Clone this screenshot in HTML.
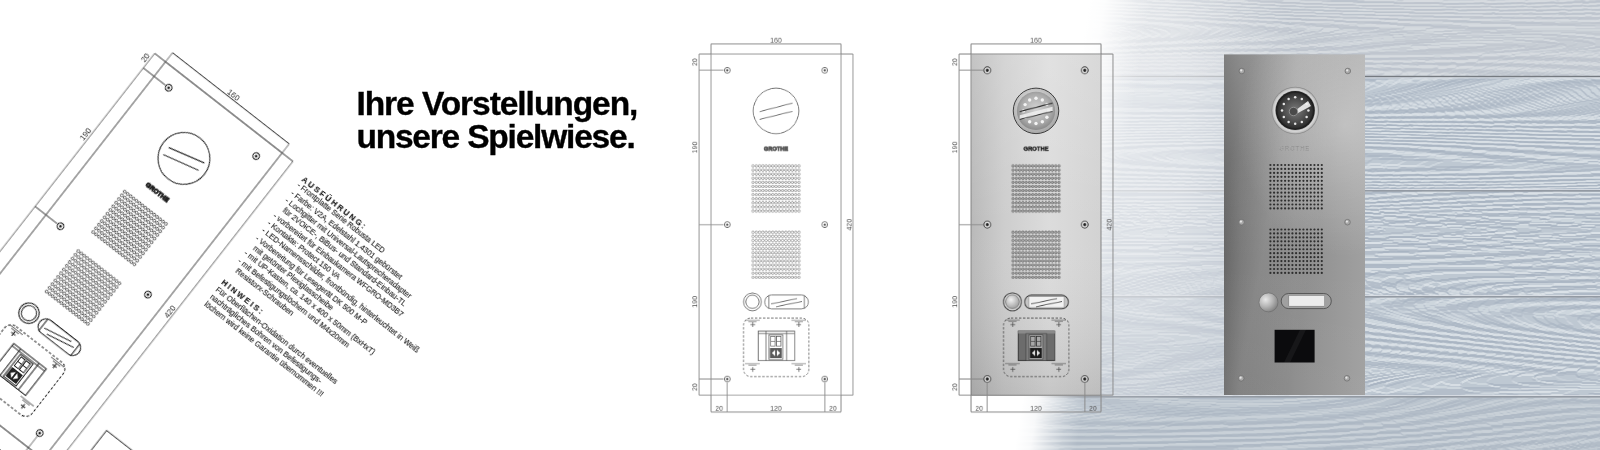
<!DOCTYPE html>
<html><head><meta charset="utf-8"><style>
html,body{margin:0;padding:0;width:1600px;height:450px;overflow:hidden;background:#fff}
svg{display:block;will-change:transform}
text{font-family:"Liberation Sans",sans-serif}
</style></head><body>
<svg width="1600" height="450" viewBox="0 0 1600 450">
<defs>
  <filter id="grain" x="0" y="0" width="100%" height="100%" color-interpolation-filters="sRGB">
    <feTurbulence type="fractalNoise" baseFrequency="0.0008 0.010" numOctaves="2" seed="5" result="n"/>
    <feComponentTransfer in="n" result="s"><feFuncR type="table" tableValues="1 0 1 0 1 0 1 0 1 0 1 0 1 0 1 0 1 0 1 0 1 0 1 0 1 0 1 0 1 0 1 0 1 0 1 0 1 0 1 0 1 0 1 0 1 0 1 0 1 0 1 0 1 0 1 0 1 0 1 0 1"/><feFuncA type="linear" slope="0" intercept="1"/></feComponentTransfer>
    <feColorMatrix in="s" type="matrix" values="1 0 0 0 0  1 0 0 0 0  1 0 0 0 0  1 0 0 0 0" result="h"/>
    <feGaussianBlur in="h" stdDeviation="0.65" result="hb"/>
    <feDiffuseLighting in="hb" surfaceScale="1.0" diffuseConstant="1" lighting-color="#fff" result="L"><feDistantLight azimuth="270" elevation="50"/></feDiffuseLighting>
    <feComponentTransfer in="L" result="L2"><feFuncR type="table" tableValues="0.15 0.17 0.2 0.23 0.27 0.32 0.38 0.45 0.6 0.8 1"/></feComponentTransfer>
    <feColorMatrix in="L2" type="matrix" values="0.243 0 0 0 0.614  0.22 0 0 0 0.664  0.18 0 0 0 0.726  0 0 0 0 1"/>
  </filter>
  <linearGradient id="fade" gradientUnits="userSpaceOnUse" x1="1052" y1="225" x2="1112" y2="235">
    <stop offset="0" stop-color="#fff" stop-opacity="1"/>
    <stop offset="0.25" stop-color="#fff" stop-opacity="0.9"/>
    <stop offset="0.5" stop-color="#fff" stop-opacity="0.55"/>
    <stop offset="0.75" stop-color="#fff" stop-opacity="0.22"/>
    <stop offset="1" stop-color="#fff" stop-opacity="0"/>
  </linearGradient>
  <radialGradient id="tail" gradientUnits="userSpaceOnUse" cx="1080" cy="120" r="220" gradientTransform="translate(1080 120) scale(1 1.4545) translate(-1080 -120)">
    <stop offset="0" stop-color="#fff" stop-opacity="0.6"/>
    <stop offset="0.5" stop-color="#fff" stop-opacity="0.42"/>
    <stop offset="0.8" stop-color="#fff" stop-opacity="0.15"/>
    <stop offset="1" stop-color="#fff" stop-opacity="0"/>
  </radialGradient>
  <linearGradient id="topplank" gradientUnits="userSpaceOnUse" x1="1100" y1="0" x2="1600" y2="0">
    <stop offset="0" stop-color="#f2f2f2" stop-opacity="0.45"/>
    <stop offset="0.5" stop-color="#f0f0f0" stop-opacity="0.3"/>
    <stop offset="1" stop-color="#eeeeee" stop-opacity="0.18"/>
  </linearGradient>
  <linearGradient id="botplank" gradientUnits="userSpaceOnUse" x1="1040" y1="0" x2="1600" y2="0">
    <stop offset="0" stop-color="#6f8094" stop-opacity="0.28"/>
    <stop offset="0.4" stop-color="#6f8094" stop-opacity="0.16"/>
    <stop offset="1" stop-color="#6f8094" stop-opacity="0.08"/>
  </linearGradient>
  <radialGradient id="topglow" gradientUnits="userSpaceOnUse" cx="1120" cy="0" r="140" gradientTransform="translate(1120 0) scale(1 0.75) translate(-1120 0)">
    <stop offset="0" stop-color="#fff" stop-opacity="0.25"/>
    <stop offset="0.5" stop-color="#fff" stop-opacity="0.1"/>
    <stop offset="1" stop-color="#fff" stop-opacity="0"/>
  </radialGradient>
  <linearGradient id="mgrad" x1="0" y1="0" x2="1" y2="0">
    <stop offset="0" stop-color="#b9b9b9"/>
    <stop offset="0.25" stop-color="#cdcdcd"/>
    <stop offset="0.6" stop-color="#dcdcdc"/>
    <stop offset="1" stop-color="#d2d2d2"/>
  </linearGradient>
  <linearGradient id="msheen" x1="0" y1="0" x2="0" y2="1">
    <stop offset="0" stop-color="#fff" stop-opacity="0.15"/>
    <stop offset="0.5" stop-color="#fff" stop-opacity="0"/>
    <stop offset="1" stop-color="#000" stop-opacity="0.1"/>
  </linearGradient>
  <radialGradient id="camg" cx="0.45" cy="0.4" r="0.6">
    <stop offset="0" stop-color="#f0f0f0"/><stop offset="1" stop-color="#a8a8a8"/>
  </radialGradient>
  <radialGradient id="camin" cx="0.5" cy="0.45" r="0.55">
    <stop offset="0" stop-color="#d4d4d4"/><stop offset="0.7" stop-color="#ababab"/><stop offset="1" stop-color="#8a8a8a"/>
  </radialGradient>
  <radialGradient id="btng" cx="0.4" cy="0.35" r="0.7">
    <stop offset="0" stop-color="#f2f2f2"/><stop offset="1" stop-color="#9a9a9a"/>
  </radialGradient>
  <linearGradient id="steel" x1="0" y1="0" x2="1" y2="0">
    <stop offset="0" stop-color="#646464"/>
    <stop offset="0.12" stop-color="#737373"/>
    <stop offset="0.5" stop-color="#8c8c8c"/>
    <stop offset="0.85" stop-color="#9a9a9a"/>
    <stop offset="1" stop-color="#a0a0a0"/>
  </linearGradient>
  <radialGradient id="steelhl" gradientUnits="userSpaceOnUse" cx="1345" cy="125" r="120" gradientTransform="translate(1345 125) scale(0.9 1.1) translate(-1345 -125)">
    <stop offset="0" stop-color="#fff" stop-opacity="0.32"/>
    <stop offset="0.5" stop-color="#fff" stop-opacity="0.15"/>
    <stop offset="1" stop-color="#fff" stop-opacity="0"/>
  </radialGradient>
  <linearGradient id="steeld" x1="0" y1="0" x2="1" y2="0.45">
    <stop offset="0.15" stop-color="#fff" stop-opacity="0"/>
    <stop offset="0.45" stop-color="#fff" stop-opacity="0.1"/>
    <stop offset="0.75" stop-color="#fff" stop-opacity="0"/>
  </linearGradient>
  <radialGradient id="bezel" cx="0.5" cy="0.5" r="0.5">
    <stop offset="0.8" stop-color="#9a9a9a"/><stop offset="0.9" stop-color="#d8d8d8"/><stop offset="1" stop-color="#b4b4b4"/>
  </radialGradient>
  <linearGradient id="steelv" x1="0" y1="0" x2="0" y2="1">
    <stop offset="0" stop-color="#fff" stop-opacity="0.18"/>
    <stop offset="0.3" stop-color="#fff" stop-opacity="0.06"/>
    <stop offset="0.6" stop-color="#fff" stop-opacity="0"/>
    <stop offset="1" stop-color="#fff" stop-opacity="0.03"/>
  </linearGradient>
  <radialGradient id="lens" cx="0.5" cy="0.5" r="0.5">
    <stop offset="0" stop-color="#7a7a7a"/><stop offset="0.6" stop-color="#505050"/><stop offset="1" stop-color="#2c2c2c"/>
  </radialGradient>
  <radialGradient id="pbtn" cx="0.35" cy="0.35" r="0.75">
    <stop offset="0" stop-color="#e8e8e8"/><stop offset="0.5" stop-color="#b5b5b5"/><stop offset="1" stop-color="#7a7a7a"/>
  </radialGradient>
</defs>

<g transform="translate(0 0)"><rect x="900" y="0" width="700" height="76" filter="url(#grain)"/></g>
<g transform="translate(-900 0)"><rect x="1800" y="76" width="700" height="114" filter="url(#grain)"/></g>
<g transform="translate(-1800 0)"><rect x="2700" y="190" width="700" height="106" filter="url(#grain)"/></g>
<g transform="translate(-2700 0)"><rect x="3600" y="296" width="700" height="100" filter="url(#grain)"/></g>
<g transform="translate(-3600 0)"><rect x="4500" y="396" width="700" height="54" filter="url(#grain)"/></g>
<rect x="900" y="0" width="700" height="76" fill="#d3d6da" fill-opacity="0.48"/>
<rect x="900" y="397" width="700" height="53" fill="#b3bcc6" fill-opacity="0.42"/>
<rect x="900" y="75.8" width="700" height="1.6" fill="#757a80"/>
<rect x="900" y="77.4" width="700" height="1" fill="#d8dde3"/>
<rect x="900" y="189" width="700" height="1" fill="#dfe3e8" fill-opacity="0.7"/>
<rect x="900" y="190" width="700" height="1.6" fill="#939aa3"/>
<rect x="900" y="295" width="700" height="1" fill="#dfe3e8" fill-opacity="0.7"/>
<rect x="900" y="296" width="700" height="1.6" fill="#939aa3"/>
<rect x="900" y="395" width="700" height="1" fill="#dfe3e8" fill-opacity="0.7"/>
<rect x="900" y="396" width="700" height="1.6" fill="#939aa3"/>
<rect x="1100" y="54.5" width="124" height="340.5" fill="#d3d8de" fill-opacity="0.45"/>
<rect x="0" y="0" width="1600" height="450" fill="url(#tail)"/>
<rect x="0" y="0" width="1600" height="450" fill="url(#topglow)"/>
<rect x="0" y="0" width="1600" height="450" fill="url(#fade)"/>
<rect x="1224" y="54.5" width="141" height="340.5" fill="url(#steel)"/><rect x="1224" y="54.5" width="141" height="340.5" fill="url(#steelv)"/><rect x="1224" y="54.5" width="141" height="340.5" fill="url(#steeld)"/><rect x="1224" y="54.5" width="141" height="340.5" fill="url(#steelhl)"/><circle cx="1295.2" cy="110.5" r="23.8" fill="#8c8c8c"/><circle cx="1295.2" cy="110.5" r="23" fill="url(#bezel)"/><circle cx="1295.2" cy="110.5" r="19.6" fill="#202020"/><circle cx="1295.2" cy="110.5" r="17.8" fill="url(#lens)"/><circle cx="1295.2" cy="97.3" r="1.25" fill="#e6e6e6"/><circle cx="1301.8" cy="99.1" r="1.25" fill="#e6e6e6"/><circle cx="1306.6" cy="103.9" r="1.25" fill="#e6e6e6"/><circle cx="1308.4" cy="110.5" r="1.25" fill="#e6e6e6"/><circle cx="1306.6" cy="117.1" r="1.25" fill="#e6e6e6"/><circle cx="1301.8" cy="121.9" r="1.25" fill="#e6e6e6"/><circle cx="1295.2" cy="123.7" r="1.25" fill="#e6e6e6"/><circle cx="1288.6" cy="121.9" r="1.25" fill="#e6e6e6"/><circle cx="1283.8" cy="117.1" r="1.25" fill="#e6e6e6"/><circle cx="1282.0" cy="110.5" r="1.25" fill="#e6e6e6"/><circle cx="1283.8" cy="103.9" r="1.25" fill="#e6e6e6"/><circle cx="1288.6" cy="99.1" r="1.25" fill="#e6e6e6"/><path d="M1296 110 L1308 101 L1311 106 L1298 113Z" fill="#f0f0f0" opacity="0.9"/><circle cx="1293.5" cy="111.5" r="4.2" fill="#4a4a4a" stroke="#9a9a9a" stroke-width="0.8"/><text x="1294.6" y="149.6" font-size="6.2" fill="#cfcfcf" stroke="#7a7a7a" stroke-width="0.25" text-anchor="middle" letter-spacing="0.7" font-family="Liberation Serif">GROTHE</text><circle cx="1241.8" cy="71" r="2.8" fill="#a8a8a8" stroke="#6a6a6a" stroke-width="0.7"/><circle cx="1241.2" cy="70.4" r="1.1" fill="#e6e6e6"/><circle cx="1347.8" cy="71" r="2.8" fill="#a8a8a8" stroke="#6a6a6a" stroke-width="0.7"/><circle cx="1347.2" cy="70.4" r="1.1" fill="#e6e6e6"/><circle cx="1241.5" cy="222.2" r="2.8" fill="#a8a8a8" stroke="#6a6a6a" stroke-width="0.7"/><circle cx="1240.9" cy="221.6" r="1.1" fill="#e6e6e6"/><circle cx="1347.5" cy="222.2" r="2.8" fill="#a8a8a8" stroke="#6a6a6a" stroke-width="0.7"/><circle cx="1346.9" cy="221.6" r="1.1" fill="#e6e6e6"/><circle cx="1241.2" cy="378.3" r="2.8" fill="#a8a8a8" stroke="#6a6a6a" stroke-width="0.7"/><circle cx="1240.6000000000001" cy="377.7" r="1.1" fill="#e6e6e6"/><circle cx="1347" cy="378.3" r="2.8" fill="#a8a8a8" stroke="#6a6a6a" stroke-width="0.7"/><circle cx="1346.4" cy="377.7" r="1.1" fill="#e6e6e6"/><g fill="#2e2e2e"><circle cx="1270.40" cy="165.00" r="1.1"/><circle cx="1274.07" cy="165.00" r="1.1"/><circle cx="1277.74" cy="165.00" r="1.1"/><circle cx="1281.41" cy="165.00" r="1.1"/><circle cx="1285.08" cy="165.00" r="1.1"/><circle cx="1288.75" cy="165.00" r="1.1"/><circle cx="1292.42" cy="165.00" r="1.1"/><circle cx="1296.09" cy="165.00" r="1.1"/><circle cx="1299.76" cy="165.00" r="1.1"/><circle cx="1303.43" cy="165.00" r="1.1"/><circle cx="1307.10" cy="165.00" r="1.1"/><circle cx="1310.77" cy="165.00" r="1.1"/><circle cx="1314.44" cy="165.00" r="1.1"/><circle cx="1318.11" cy="165.00" r="1.1"/><circle cx="1321.78" cy="165.00" r="1.1"/><circle cx="1270.40" cy="168.95" r="1.1"/><circle cx="1274.07" cy="168.95" r="1.1"/><circle cx="1277.74" cy="168.95" r="1.1"/><circle cx="1281.41" cy="168.95" r="1.1"/><circle cx="1285.08" cy="168.95" r="1.1"/><circle cx="1288.75" cy="168.95" r="1.1"/><circle cx="1292.42" cy="168.95" r="1.1"/><circle cx="1296.09" cy="168.95" r="1.1"/><circle cx="1299.76" cy="168.95" r="1.1"/><circle cx="1303.43" cy="168.95" r="1.1"/><circle cx="1307.10" cy="168.95" r="1.1"/><circle cx="1310.77" cy="168.95" r="1.1"/><circle cx="1314.44" cy="168.95" r="1.1"/><circle cx="1318.11" cy="168.95" r="1.1"/><circle cx="1321.78" cy="168.95" r="1.1"/><circle cx="1270.40" cy="172.90" r="1.1"/><circle cx="1274.07" cy="172.90" r="1.1"/><circle cx="1277.74" cy="172.90" r="1.1"/><circle cx="1281.41" cy="172.90" r="1.1"/><circle cx="1285.08" cy="172.90" r="1.1"/><circle cx="1288.75" cy="172.90" r="1.1"/><circle cx="1292.42" cy="172.90" r="1.1"/><circle cx="1296.09" cy="172.90" r="1.1"/><circle cx="1299.76" cy="172.90" r="1.1"/><circle cx="1303.43" cy="172.90" r="1.1"/><circle cx="1307.10" cy="172.90" r="1.1"/><circle cx="1310.77" cy="172.90" r="1.1"/><circle cx="1314.44" cy="172.90" r="1.1"/><circle cx="1318.11" cy="172.90" r="1.1"/><circle cx="1321.78" cy="172.90" r="1.1"/><circle cx="1270.40" cy="176.85" r="1.1"/><circle cx="1274.07" cy="176.85" r="1.1"/><circle cx="1277.74" cy="176.85" r="1.1"/><circle cx="1281.41" cy="176.85" r="1.1"/><circle cx="1285.08" cy="176.85" r="1.1"/><circle cx="1288.75" cy="176.85" r="1.1"/><circle cx="1292.42" cy="176.85" r="1.1"/><circle cx="1296.09" cy="176.85" r="1.1"/><circle cx="1299.76" cy="176.85" r="1.1"/><circle cx="1303.43" cy="176.85" r="1.1"/><circle cx="1307.10" cy="176.85" r="1.1"/><circle cx="1310.77" cy="176.85" r="1.1"/><circle cx="1314.44" cy="176.85" r="1.1"/><circle cx="1318.11" cy="176.85" r="1.1"/><circle cx="1321.78" cy="176.85" r="1.1"/><circle cx="1270.40" cy="180.80" r="1.1"/><circle cx="1274.07" cy="180.80" r="1.1"/><circle cx="1277.74" cy="180.80" r="1.1"/><circle cx="1281.41" cy="180.80" r="1.1"/><circle cx="1285.08" cy="180.80" r="1.1"/><circle cx="1288.75" cy="180.80" r="1.1"/><circle cx="1292.42" cy="180.80" r="1.1"/><circle cx="1296.09" cy="180.80" r="1.1"/><circle cx="1299.76" cy="180.80" r="1.1"/><circle cx="1303.43" cy="180.80" r="1.1"/><circle cx="1307.10" cy="180.80" r="1.1"/><circle cx="1310.77" cy="180.80" r="1.1"/><circle cx="1314.44" cy="180.80" r="1.1"/><circle cx="1318.11" cy="180.80" r="1.1"/><circle cx="1321.78" cy="180.80" r="1.1"/><circle cx="1270.40" cy="184.75" r="1.1"/><circle cx="1274.07" cy="184.75" r="1.1"/><circle cx="1277.74" cy="184.75" r="1.1"/><circle cx="1281.41" cy="184.75" r="1.1"/><circle cx="1285.08" cy="184.75" r="1.1"/><circle cx="1288.75" cy="184.75" r="1.1"/><circle cx="1292.42" cy="184.75" r="1.1"/><circle cx="1296.09" cy="184.75" r="1.1"/><circle cx="1299.76" cy="184.75" r="1.1"/><circle cx="1303.43" cy="184.75" r="1.1"/><circle cx="1307.10" cy="184.75" r="1.1"/><circle cx="1310.77" cy="184.75" r="1.1"/><circle cx="1314.44" cy="184.75" r="1.1"/><circle cx="1318.11" cy="184.75" r="1.1"/><circle cx="1321.78" cy="184.75" r="1.1"/><circle cx="1270.40" cy="188.70" r="1.1"/><circle cx="1274.07" cy="188.70" r="1.1"/><circle cx="1277.74" cy="188.70" r="1.1"/><circle cx="1281.41" cy="188.70" r="1.1"/><circle cx="1285.08" cy="188.70" r="1.1"/><circle cx="1288.75" cy="188.70" r="1.1"/><circle cx="1292.42" cy="188.70" r="1.1"/><circle cx="1296.09" cy="188.70" r="1.1"/><circle cx="1299.76" cy="188.70" r="1.1"/><circle cx="1303.43" cy="188.70" r="1.1"/><circle cx="1307.10" cy="188.70" r="1.1"/><circle cx="1310.77" cy="188.70" r="1.1"/><circle cx="1314.44" cy="188.70" r="1.1"/><circle cx="1318.11" cy="188.70" r="1.1"/><circle cx="1321.78" cy="188.70" r="1.1"/><circle cx="1270.40" cy="192.65" r="1.1"/><circle cx="1274.07" cy="192.65" r="1.1"/><circle cx="1277.74" cy="192.65" r="1.1"/><circle cx="1281.41" cy="192.65" r="1.1"/><circle cx="1285.08" cy="192.65" r="1.1"/><circle cx="1288.75" cy="192.65" r="1.1"/><circle cx="1292.42" cy="192.65" r="1.1"/><circle cx="1296.09" cy="192.65" r="1.1"/><circle cx="1299.76" cy="192.65" r="1.1"/><circle cx="1303.43" cy="192.65" r="1.1"/><circle cx="1307.10" cy="192.65" r="1.1"/><circle cx="1310.77" cy="192.65" r="1.1"/><circle cx="1314.44" cy="192.65" r="1.1"/><circle cx="1318.11" cy="192.65" r="1.1"/><circle cx="1321.78" cy="192.65" r="1.1"/><circle cx="1270.40" cy="196.60" r="1.1"/><circle cx="1274.07" cy="196.60" r="1.1"/><circle cx="1277.74" cy="196.60" r="1.1"/><circle cx="1281.41" cy="196.60" r="1.1"/><circle cx="1285.08" cy="196.60" r="1.1"/><circle cx="1288.75" cy="196.60" r="1.1"/><circle cx="1292.42" cy="196.60" r="1.1"/><circle cx="1296.09" cy="196.60" r="1.1"/><circle cx="1299.76" cy="196.60" r="1.1"/><circle cx="1303.43" cy="196.60" r="1.1"/><circle cx="1307.10" cy="196.60" r="1.1"/><circle cx="1310.77" cy="196.60" r="1.1"/><circle cx="1314.44" cy="196.60" r="1.1"/><circle cx="1318.11" cy="196.60" r="1.1"/><circle cx="1321.78" cy="196.60" r="1.1"/><circle cx="1270.40" cy="200.55" r="1.1"/><circle cx="1274.07" cy="200.55" r="1.1"/><circle cx="1277.74" cy="200.55" r="1.1"/><circle cx="1281.41" cy="200.55" r="1.1"/><circle cx="1285.08" cy="200.55" r="1.1"/><circle cx="1288.75" cy="200.55" r="1.1"/><circle cx="1292.42" cy="200.55" r="1.1"/><circle cx="1296.09" cy="200.55" r="1.1"/><circle cx="1299.76" cy="200.55" r="1.1"/><circle cx="1303.43" cy="200.55" r="1.1"/><circle cx="1307.10" cy="200.55" r="1.1"/><circle cx="1310.77" cy="200.55" r="1.1"/><circle cx="1314.44" cy="200.55" r="1.1"/><circle cx="1318.11" cy="200.55" r="1.1"/><circle cx="1321.78" cy="200.55" r="1.1"/><circle cx="1270.40" cy="204.50" r="1.1"/><circle cx="1274.07" cy="204.50" r="1.1"/><circle cx="1277.74" cy="204.50" r="1.1"/><circle cx="1281.41" cy="204.50" r="1.1"/><circle cx="1285.08" cy="204.50" r="1.1"/><circle cx="1288.75" cy="204.50" r="1.1"/><circle cx="1292.42" cy="204.50" r="1.1"/><circle cx="1296.09" cy="204.50" r="1.1"/><circle cx="1299.76" cy="204.50" r="1.1"/><circle cx="1303.43" cy="204.50" r="1.1"/><circle cx="1307.10" cy="204.50" r="1.1"/><circle cx="1310.77" cy="204.50" r="1.1"/><circle cx="1314.44" cy="204.50" r="1.1"/><circle cx="1318.11" cy="204.50" r="1.1"/><circle cx="1321.78" cy="204.50" r="1.1"/><circle cx="1270.40" cy="208.45" r="1.1"/><circle cx="1274.07" cy="208.45" r="1.1"/><circle cx="1277.74" cy="208.45" r="1.1"/><circle cx="1281.41" cy="208.45" r="1.1"/><circle cx="1285.08" cy="208.45" r="1.1"/><circle cx="1288.75" cy="208.45" r="1.1"/><circle cx="1292.42" cy="208.45" r="1.1"/><circle cx="1296.09" cy="208.45" r="1.1"/><circle cx="1299.76" cy="208.45" r="1.1"/><circle cx="1303.43" cy="208.45" r="1.1"/><circle cx="1307.10" cy="208.45" r="1.1"/><circle cx="1310.77" cy="208.45" r="1.1"/><circle cx="1314.44" cy="208.45" r="1.1"/><circle cx="1318.11" cy="208.45" r="1.1"/><circle cx="1321.78" cy="208.45" r="1.1"/></g><g fill="#2e2e2e"><circle cx="1270.40" cy="229.50" r="1.1"/><circle cx="1274.07" cy="229.50" r="1.1"/><circle cx="1277.74" cy="229.50" r="1.1"/><circle cx="1281.41" cy="229.50" r="1.1"/><circle cx="1285.08" cy="229.50" r="1.1"/><circle cx="1288.75" cy="229.50" r="1.1"/><circle cx="1292.42" cy="229.50" r="1.1"/><circle cx="1296.09" cy="229.50" r="1.1"/><circle cx="1299.76" cy="229.50" r="1.1"/><circle cx="1303.43" cy="229.50" r="1.1"/><circle cx="1307.10" cy="229.50" r="1.1"/><circle cx="1310.77" cy="229.50" r="1.1"/><circle cx="1314.44" cy="229.50" r="1.1"/><circle cx="1318.11" cy="229.50" r="1.1"/><circle cx="1321.78" cy="229.50" r="1.1"/><circle cx="1270.40" cy="233.45" r="1.1"/><circle cx="1274.07" cy="233.45" r="1.1"/><circle cx="1277.74" cy="233.45" r="1.1"/><circle cx="1281.41" cy="233.45" r="1.1"/><circle cx="1285.08" cy="233.45" r="1.1"/><circle cx="1288.75" cy="233.45" r="1.1"/><circle cx="1292.42" cy="233.45" r="1.1"/><circle cx="1296.09" cy="233.45" r="1.1"/><circle cx="1299.76" cy="233.45" r="1.1"/><circle cx="1303.43" cy="233.45" r="1.1"/><circle cx="1307.10" cy="233.45" r="1.1"/><circle cx="1310.77" cy="233.45" r="1.1"/><circle cx="1314.44" cy="233.45" r="1.1"/><circle cx="1318.11" cy="233.45" r="1.1"/><circle cx="1321.78" cy="233.45" r="1.1"/><circle cx="1270.40" cy="237.40" r="1.1"/><circle cx="1274.07" cy="237.40" r="1.1"/><circle cx="1277.74" cy="237.40" r="1.1"/><circle cx="1281.41" cy="237.40" r="1.1"/><circle cx="1285.08" cy="237.40" r="1.1"/><circle cx="1288.75" cy="237.40" r="1.1"/><circle cx="1292.42" cy="237.40" r="1.1"/><circle cx="1296.09" cy="237.40" r="1.1"/><circle cx="1299.76" cy="237.40" r="1.1"/><circle cx="1303.43" cy="237.40" r="1.1"/><circle cx="1307.10" cy="237.40" r="1.1"/><circle cx="1310.77" cy="237.40" r="1.1"/><circle cx="1314.44" cy="237.40" r="1.1"/><circle cx="1318.11" cy="237.40" r="1.1"/><circle cx="1321.78" cy="237.40" r="1.1"/><circle cx="1270.40" cy="241.35" r="1.1"/><circle cx="1274.07" cy="241.35" r="1.1"/><circle cx="1277.74" cy="241.35" r="1.1"/><circle cx="1281.41" cy="241.35" r="1.1"/><circle cx="1285.08" cy="241.35" r="1.1"/><circle cx="1288.75" cy="241.35" r="1.1"/><circle cx="1292.42" cy="241.35" r="1.1"/><circle cx="1296.09" cy="241.35" r="1.1"/><circle cx="1299.76" cy="241.35" r="1.1"/><circle cx="1303.43" cy="241.35" r="1.1"/><circle cx="1307.10" cy="241.35" r="1.1"/><circle cx="1310.77" cy="241.35" r="1.1"/><circle cx="1314.44" cy="241.35" r="1.1"/><circle cx="1318.11" cy="241.35" r="1.1"/><circle cx="1321.78" cy="241.35" r="1.1"/><circle cx="1270.40" cy="245.30" r="1.1"/><circle cx="1274.07" cy="245.30" r="1.1"/><circle cx="1277.74" cy="245.30" r="1.1"/><circle cx="1281.41" cy="245.30" r="1.1"/><circle cx="1285.08" cy="245.30" r="1.1"/><circle cx="1288.75" cy="245.30" r="1.1"/><circle cx="1292.42" cy="245.30" r="1.1"/><circle cx="1296.09" cy="245.30" r="1.1"/><circle cx="1299.76" cy="245.30" r="1.1"/><circle cx="1303.43" cy="245.30" r="1.1"/><circle cx="1307.10" cy="245.30" r="1.1"/><circle cx="1310.77" cy="245.30" r="1.1"/><circle cx="1314.44" cy="245.30" r="1.1"/><circle cx="1318.11" cy="245.30" r="1.1"/><circle cx="1321.78" cy="245.30" r="1.1"/><circle cx="1270.40" cy="249.25" r="1.1"/><circle cx="1274.07" cy="249.25" r="1.1"/><circle cx="1277.74" cy="249.25" r="1.1"/><circle cx="1281.41" cy="249.25" r="1.1"/><circle cx="1285.08" cy="249.25" r="1.1"/><circle cx="1288.75" cy="249.25" r="1.1"/><circle cx="1292.42" cy="249.25" r="1.1"/><circle cx="1296.09" cy="249.25" r="1.1"/><circle cx="1299.76" cy="249.25" r="1.1"/><circle cx="1303.43" cy="249.25" r="1.1"/><circle cx="1307.10" cy="249.25" r="1.1"/><circle cx="1310.77" cy="249.25" r="1.1"/><circle cx="1314.44" cy="249.25" r="1.1"/><circle cx="1318.11" cy="249.25" r="1.1"/><circle cx="1321.78" cy="249.25" r="1.1"/><circle cx="1270.40" cy="253.20" r="1.1"/><circle cx="1274.07" cy="253.20" r="1.1"/><circle cx="1277.74" cy="253.20" r="1.1"/><circle cx="1281.41" cy="253.20" r="1.1"/><circle cx="1285.08" cy="253.20" r="1.1"/><circle cx="1288.75" cy="253.20" r="1.1"/><circle cx="1292.42" cy="253.20" r="1.1"/><circle cx="1296.09" cy="253.20" r="1.1"/><circle cx="1299.76" cy="253.20" r="1.1"/><circle cx="1303.43" cy="253.20" r="1.1"/><circle cx="1307.10" cy="253.20" r="1.1"/><circle cx="1310.77" cy="253.20" r="1.1"/><circle cx="1314.44" cy="253.20" r="1.1"/><circle cx="1318.11" cy="253.20" r="1.1"/><circle cx="1321.78" cy="253.20" r="1.1"/><circle cx="1270.40" cy="257.15" r="1.1"/><circle cx="1274.07" cy="257.15" r="1.1"/><circle cx="1277.74" cy="257.15" r="1.1"/><circle cx="1281.41" cy="257.15" r="1.1"/><circle cx="1285.08" cy="257.15" r="1.1"/><circle cx="1288.75" cy="257.15" r="1.1"/><circle cx="1292.42" cy="257.15" r="1.1"/><circle cx="1296.09" cy="257.15" r="1.1"/><circle cx="1299.76" cy="257.15" r="1.1"/><circle cx="1303.43" cy="257.15" r="1.1"/><circle cx="1307.10" cy="257.15" r="1.1"/><circle cx="1310.77" cy="257.15" r="1.1"/><circle cx="1314.44" cy="257.15" r="1.1"/><circle cx="1318.11" cy="257.15" r="1.1"/><circle cx="1321.78" cy="257.15" r="1.1"/><circle cx="1270.40" cy="261.10" r="1.1"/><circle cx="1274.07" cy="261.10" r="1.1"/><circle cx="1277.74" cy="261.10" r="1.1"/><circle cx="1281.41" cy="261.10" r="1.1"/><circle cx="1285.08" cy="261.10" r="1.1"/><circle cx="1288.75" cy="261.10" r="1.1"/><circle cx="1292.42" cy="261.10" r="1.1"/><circle cx="1296.09" cy="261.10" r="1.1"/><circle cx="1299.76" cy="261.10" r="1.1"/><circle cx="1303.43" cy="261.10" r="1.1"/><circle cx="1307.10" cy="261.10" r="1.1"/><circle cx="1310.77" cy="261.10" r="1.1"/><circle cx="1314.44" cy="261.10" r="1.1"/><circle cx="1318.11" cy="261.10" r="1.1"/><circle cx="1321.78" cy="261.10" r="1.1"/><circle cx="1270.40" cy="265.05" r="1.1"/><circle cx="1274.07" cy="265.05" r="1.1"/><circle cx="1277.74" cy="265.05" r="1.1"/><circle cx="1281.41" cy="265.05" r="1.1"/><circle cx="1285.08" cy="265.05" r="1.1"/><circle cx="1288.75" cy="265.05" r="1.1"/><circle cx="1292.42" cy="265.05" r="1.1"/><circle cx="1296.09" cy="265.05" r="1.1"/><circle cx="1299.76" cy="265.05" r="1.1"/><circle cx="1303.43" cy="265.05" r="1.1"/><circle cx="1307.10" cy="265.05" r="1.1"/><circle cx="1310.77" cy="265.05" r="1.1"/><circle cx="1314.44" cy="265.05" r="1.1"/><circle cx="1318.11" cy="265.05" r="1.1"/><circle cx="1321.78" cy="265.05" r="1.1"/><circle cx="1270.40" cy="269.00" r="1.1"/><circle cx="1274.07" cy="269.00" r="1.1"/><circle cx="1277.74" cy="269.00" r="1.1"/><circle cx="1281.41" cy="269.00" r="1.1"/><circle cx="1285.08" cy="269.00" r="1.1"/><circle cx="1288.75" cy="269.00" r="1.1"/><circle cx="1292.42" cy="269.00" r="1.1"/><circle cx="1296.09" cy="269.00" r="1.1"/><circle cx="1299.76" cy="269.00" r="1.1"/><circle cx="1303.43" cy="269.00" r="1.1"/><circle cx="1307.10" cy="269.00" r="1.1"/><circle cx="1310.77" cy="269.00" r="1.1"/><circle cx="1314.44" cy="269.00" r="1.1"/><circle cx="1318.11" cy="269.00" r="1.1"/><circle cx="1321.78" cy="269.00" r="1.1"/><circle cx="1270.40" cy="272.95" r="1.1"/><circle cx="1274.07" cy="272.95" r="1.1"/><circle cx="1277.74" cy="272.95" r="1.1"/><circle cx="1281.41" cy="272.95" r="1.1"/><circle cx="1285.08" cy="272.95" r="1.1"/><circle cx="1288.75" cy="272.95" r="1.1"/><circle cx="1292.42" cy="272.95" r="1.1"/><circle cx="1296.09" cy="272.95" r="1.1"/><circle cx="1299.76" cy="272.95" r="1.1"/><circle cx="1303.43" cy="272.95" r="1.1"/><circle cx="1307.10" cy="272.95" r="1.1"/><circle cx="1310.77" cy="272.95" r="1.1"/><circle cx="1314.44" cy="272.95" r="1.1"/><circle cx="1318.11" cy="272.95" r="1.1"/><circle cx="1321.78" cy="272.95" r="1.1"/></g><circle cx="1268.5" cy="302.4" r="9.5" fill="url(#pbtn)" stroke="#6a6a6a" stroke-width="0.6"/><rect x="1281.2" y="293.5" width="50.1" height="15.1" rx="7.5" fill="#a0a0a0" stroke="#505050" stroke-width="0.9"/><rect x="1288.8" y="295.4" width="35.9" height="10.8" fill="#ececec" stroke="#707070" stroke-width="0.5"/><rect x="1274.6" y="329.8" width="40" height="32.7" fill="#0b0b0d"/><path d="M1300 329.8 L1306 329.8 L1290 362.5 L1284 362.5Z" fill="#fff" opacity="0.05"/>
<g transform="translate(711,54) scale(0.8125)"><g stroke-width="1.15" fill="none"><line x1="0" y1="-12.4" x2="160" y2="-12.4" stroke="#8e8e8e"/><line x1="0" y1="-12.4" x2="0" y2="0" stroke="#8e8e8e"/><line x1="160" y1="-12.4" x2="160" y2="0" stroke="#8e8e8e"/><line x1="-14.8" y1="0" x2="-14.8" y2="420" stroke="#8e8e8e"/><line x1="-14.8" y1="0" x2="0" y2="0" stroke="#8e8e8e"/><line x1="-14.8" y1="420" x2="0" y2="420" stroke="#8e8e8e"/><line x1="-14.8" y1="20" x2="15.5" y2="20" stroke="#8e8e8e"/><line x1="-14.8" y1="210" x2="15.5" y2="210" stroke="#8e8e8e"/><line x1="-14.8" y1="400" x2="15.5" y2="400" stroke="#8e8e8e"/><line x1="174.8" y1="0" x2="174.8" y2="420" stroke="#8e8e8e"/><line x1="160" y1="0" x2="174.8" y2="0" stroke="#8e8e8e"/><line x1="160" y1="420" x2="174.8" y2="420" stroke="#8e8e8e"/><line x1="0" y1="440.6" x2="160" y2="440.6" stroke="#8e8e8e"/><line x1="0" y1="420" x2="0" y2="440.6" stroke="#8e8e8e"/><line x1="160" y1="420" x2="160" y2="440.6" stroke="#8e8e8e"/><line x1="20" y1="404.5" x2="20" y2="440.6" stroke="#8e8e8e"/><line x1="140" y1="404.5" x2="140" y2="440.6" stroke="#8e8e8e"/></g><g fill="#555" font-size="8.6" text-anchor="middle"><text x="80" y="-13.9">160</text><text transform="translate(-17.3,10) rotate(-90)">20</text><text transform="translate(-17.3,115) rotate(-90)">190</text><text transform="translate(-17.3,305) rotate(-90)">190</text><text transform="translate(-17.3,410) rotate(-90)">20</text><text transform="translate(172.6,210) rotate(-90)">420</text><text x="10" y="438.6">20</text><text x="80" y="438.6">120</text><text x="150" y="438.6">20</text></g><g stroke="#5a5a5a" stroke-width="0.95" fill="none"><rect x="0" y="0" width="160" height="420" stroke="#8a8a8a"/><circle cx="80" cy="70" r="28"/><line x1="59.8" y1="70.9" x2="100.4" y2="60.4"/><line x1="59.8" y1="80.5" x2="100.4" y2="70.5"/><circle cx="51" cy="305" r="11"/><circle cx="51" cy="305" r="8.2"/><rect x="66" y="296.6" width="53.8" height="17.2" rx="8.6"/><line x1="71" y1="297" x2="71" y2="313.4"/><line x1="114.8" y1="297" x2="114.8" y2="313.4"/><line x1="74" y1="307.5" x2="106" y2="301"/><line x1="80" y1="311" x2="112" y2="304.5"/><rect x="40" y="325" width="80.5" height="72" rx="9" stroke-dasharray="3 2"/><path d="M48.4 333h6M51.4 330v6"/><path d="M105 333h6M108 330v6"/><path d="M48.4 388.2h6M51.4 385.2v6"/><path d="M105 388.2h6M108 385.2v6"/><rect x="58.2" y="341" width="44.7" height="36.4"/><line x1="67.8" y1="341" x2="67.8" y2="377.4"/><line x1="93" y1="341" x2="93" y2="377.4"/><line x1="58.2" y1="344" x2="102.9" y2="344"/><rect x="71.1" y="345.8" width="17.3" height="30"/></g><g fill="none" stroke="#5a5a5a" stroke-width="0.855"><rect x="73.5" y="347.5" width="5.5" height="12"/><rect x="80.5" y="347.5" width="5.5" height="12"/><path d="M73.5 353.5h5.5M80.5 353.5h5.5"/></g><rect x="72.5" y="362" width="14.5" height="12" fill="#5a5a5a"/><path d="M75 368l4 -4v8zM85 368l-4 -4v8z" fill="#fff"/><text x="80" y="119.3" font-size="8" font-weight="bold" fill="#5a5a5a" stroke="#5a5a5a" stroke-width="1.1" stroke-linejoin="round" text-anchor="middle" textLength="30" lengthAdjust="spacingAndGlyphs">GROTHE</text><g fill="#5a5a5a" opacity="0.6"><rect x="42" y="327.0" width="18" height="1.2"/><rect x="46" y="329.0" width="10" height="1.2"/><rect x="99" y="327.0" width="18" height="1.2"/><rect x="103" y="329.0" width="10" height="1.2"/><rect x="42" y="380.5" width="18" height="1.2"/><rect x="46" y="382.5" width="10" height="1.2"/><rect x="99" y="380.5" width="18" height="1.2"/><rect x="103" y="382.5" width="10" height="1.2"/></g><circle cx="20" cy="20" r="3.6" fill="none" stroke="#5a5a5a" stroke-width="0.95"/><circle cx="20" cy="20" r="1.5" fill="#5a5a5a"/><circle cx="140" cy="20" r="3.6" fill="none" stroke="#5a5a5a" stroke-width="0.95"/><circle cx="140" cy="20" r="1.5" fill="#5a5a5a"/><circle cx="20" cy="210" r="3.6" fill="none" stroke="#5a5a5a" stroke-width="0.95"/><circle cx="20" cy="210" r="1.5" fill="#5a5a5a"/><circle cx="140" cy="210" r="3.6" fill="none" stroke="#5a5a5a" stroke-width="0.95"/><circle cx="140" cy="210" r="1.5" fill="#5a5a5a"/><circle cx="20" cy="400" r="3.6" fill="none" stroke="#5a5a5a" stroke-width="0.95"/><circle cx="20" cy="400" r="1.5" fill="#5a5a5a"/><circle cx="140" cy="400" r="3.6" fill="none" stroke="#5a5a5a" stroke-width="0.95"/><circle cx="140" cy="400" r="1.5" fill="#5a5a5a"/><g fill="none" stroke="#6e6e6e" stroke-width="0.7"><circle cx="51.70" cy="137.80" r="1.55"/><circle cx="55.74" cy="137.80" r="1.55"/><circle cx="59.78" cy="137.80" r="1.55"/><circle cx="63.82" cy="137.80" r="1.55"/><circle cx="67.86" cy="137.80" r="1.55"/><circle cx="71.90" cy="137.80" r="1.55"/><circle cx="75.94" cy="137.80" r="1.55"/><circle cx="79.98" cy="137.80" r="1.55"/><circle cx="84.02" cy="137.80" r="1.55"/><circle cx="88.06" cy="137.80" r="1.55"/><circle cx="92.10" cy="137.80" r="1.55"/><circle cx="96.14" cy="137.80" r="1.55"/><circle cx="100.18" cy="137.80" r="1.55"/><circle cx="104.22" cy="137.80" r="1.55"/><circle cx="108.26" cy="137.80" r="1.55"/><circle cx="51.70" cy="142.84" r="1.55"/><circle cx="55.74" cy="142.84" r="1.55"/><circle cx="59.78" cy="142.84" r="1.55"/><circle cx="63.82" cy="142.84" r="1.55"/><circle cx="67.86" cy="142.84" r="1.55"/><circle cx="71.90" cy="142.84" r="1.55"/><circle cx="75.94" cy="142.84" r="1.55"/><circle cx="79.98" cy="142.84" r="1.55"/><circle cx="84.02" cy="142.84" r="1.55"/><circle cx="88.06" cy="142.84" r="1.55"/><circle cx="92.10" cy="142.84" r="1.55"/><circle cx="96.14" cy="142.84" r="1.55"/><circle cx="100.18" cy="142.84" r="1.55"/><circle cx="104.22" cy="142.84" r="1.55"/><circle cx="108.26" cy="142.84" r="1.55"/><circle cx="51.70" cy="147.88" r="1.55"/><circle cx="55.74" cy="147.88" r="1.55"/><circle cx="59.78" cy="147.88" r="1.55"/><circle cx="63.82" cy="147.88" r="1.55"/><circle cx="67.86" cy="147.88" r="1.55"/><circle cx="71.90" cy="147.88" r="1.55"/><circle cx="75.94" cy="147.88" r="1.55"/><circle cx="79.98" cy="147.88" r="1.55"/><circle cx="84.02" cy="147.88" r="1.55"/><circle cx="88.06" cy="147.88" r="1.55"/><circle cx="92.10" cy="147.88" r="1.55"/><circle cx="96.14" cy="147.88" r="1.55"/><circle cx="100.18" cy="147.88" r="1.55"/><circle cx="104.22" cy="147.88" r="1.55"/><circle cx="108.26" cy="147.88" r="1.55"/><circle cx="51.70" cy="152.92" r="1.55"/><circle cx="55.74" cy="152.92" r="1.55"/><circle cx="59.78" cy="152.92" r="1.55"/><circle cx="63.82" cy="152.92" r="1.55"/><circle cx="67.86" cy="152.92" r="1.55"/><circle cx="71.90" cy="152.92" r="1.55"/><circle cx="75.94" cy="152.92" r="1.55"/><circle cx="79.98" cy="152.92" r="1.55"/><circle cx="84.02" cy="152.92" r="1.55"/><circle cx="88.06" cy="152.92" r="1.55"/><circle cx="92.10" cy="152.92" r="1.55"/><circle cx="96.14" cy="152.92" r="1.55"/><circle cx="100.18" cy="152.92" r="1.55"/><circle cx="104.22" cy="152.92" r="1.55"/><circle cx="108.26" cy="152.92" r="1.55"/><circle cx="51.70" cy="157.96" r="1.55"/><circle cx="55.74" cy="157.96" r="1.55"/><circle cx="59.78" cy="157.96" r="1.55"/><circle cx="63.82" cy="157.96" r="1.55"/><circle cx="67.86" cy="157.96" r="1.55"/><circle cx="71.90" cy="157.96" r="1.55"/><circle cx="75.94" cy="157.96" r="1.55"/><circle cx="79.98" cy="157.96" r="1.55"/><circle cx="84.02" cy="157.96" r="1.55"/><circle cx="88.06" cy="157.96" r="1.55"/><circle cx="92.10" cy="157.96" r="1.55"/><circle cx="96.14" cy="157.96" r="1.55"/><circle cx="100.18" cy="157.96" r="1.55"/><circle cx="104.22" cy="157.96" r="1.55"/><circle cx="108.26" cy="157.96" r="1.55"/><circle cx="51.70" cy="163.00" r="1.55"/><circle cx="55.74" cy="163.00" r="1.55"/><circle cx="59.78" cy="163.00" r="1.55"/><circle cx="63.82" cy="163.00" r="1.55"/><circle cx="67.86" cy="163.00" r="1.55"/><circle cx="71.90" cy="163.00" r="1.55"/><circle cx="75.94" cy="163.00" r="1.55"/><circle cx="79.98" cy="163.00" r="1.55"/><circle cx="84.02" cy="163.00" r="1.55"/><circle cx="88.06" cy="163.00" r="1.55"/><circle cx="92.10" cy="163.00" r="1.55"/><circle cx="96.14" cy="163.00" r="1.55"/><circle cx="100.18" cy="163.00" r="1.55"/><circle cx="104.22" cy="163.00" r="1.55"/><circle cx="108.26" cy="163.00" r="1.55"/><circle cx="51.70" cy="168.04" r="1.55"/><circle cx="55.74" cy="168.04" r="1.55"/><circle cx="59.78" cy="168.04" r="1.55"/><circle cx="63.82" cy="168.04" r="1.55"/><circle cx="67.86" cy="168.04" r="1.55"/><circle cx="71.90" cy="168.04" r="1.55"/><circle cx="75.94" cy="168.04" r="1.55"/><circle cx="79.98" cy="168.04" r="1.55"/><circle cx="84.02" cy="168.04" r="1.55"/><circle cx="88.06" cy="168.04" r="1.55"/><circle cx="92.10" cy="168.04" r="1.55"/><circle cx="96.14" cy="168.04" r="1.55"/><circle cx="100.18" cy="168.04" r="1.55"/><circle cx="104.22" cy="168.04" r="1.55"/><circle cx="108.26" cy="168.04" r="1.55"/><circle cx="51.70" cy="173.08" r="1.55"/><circle cx="55.74" cy="173.08" r="1.55"/><circle cx="59.78" cy="173.08" r="1.55"/><circle cx="63.82" cy="173.08" r="1.55"/><circle cx="67.86" cy="173.08" r="1.55"/><circle cx="71.90" cy="173.08" r="1.55"/><circle cx="75.94" cy="173.08" r="1.55"/><circle cx="79.98" cy="173.08" r="1.55"/><circle cx="84.02" cy="173.08" r="1.55"/><circle cx="88.06" cy="173.08" r="1.55"/><circle cx="92.10" cy="173.08" r="1.55"/><circle cx="96.14" cy="173.08" r="1.55"/><circle cx="100.18" cy="173.08" r="1.55"/><circle cx="104.22" cy="173.08" r="1.55"/><circle cx="108.26" cy="173.08" r="1.55"/><circle cx="51.70" cy="178.12" r="1.55"/><circle cx="55.74" cy="178.12" r="1.55"/><circle cx="59.78" cy="178.12" r="1.55"/><circle cx="63.82" cy="178.12" r="1.55"/><circle cx="67.86" cy="178.12" r="1.55"/><circle cx="71.90" cy="178.12" r="1.55"/><circle cx="75.94" cy="178.12" r="1.55"/><circle cx="79.98" cy="178.12" r="1.55"/><circle cx="84.02" cy="178.12" r="1.55"/><circle cx="88.06" cy="178.12" r="1.55"/><circle cx="92.10" cy="178.12" r="1.55"/><circle cx="96.14" cy="178.12" r="1.55"/><circle cx="100.18" cy="178.12" r="1.55"/><circle cx="104.22" cy="178.12" r="1.55"/><circle cx="108.26" cy="178.12" r="1.55"/><circle cx="51.70" cy="183.16" r="1.55"/><circle cx="55.74" cy="183.16" r="1.55"/><circle cx="59.78" cy="183.16" r="1.55"/><circle cx="63.82" cy="183.16" r="1.55"/><circle cx="67.86" cy="183.16" r="1.55"/><circle cx="71.90" cy="183.16" r="1.55"/><circle cx="75.94" cy="183.16" r="1.55"/><circle cx="79.98" cy="183.16" r="1.55"/><circle cx="84.02" cy="183.16" r="1.55"/><circle cx="88.06" cy="183.16" r="1.55"/><circle cx="92.10" cy="183.16" r="1.55"/><circle cx="96.14" cy="183.16" r="1.55"/><circle cx="100.18" cy="183.16" r="1.55"/><circle cx="104.22" cy="183.16" r="1.55"/><circle cx="108.26" cy="183.16" r="1.55"/><circle cx="51.70" cy="188.20" r="1.55"/><circle cx="55.74" cy="188.20" r="1.55"/><circle cx="59.78" cy="188.20" r="1.55"/><circle cx="63.82" cy="188.20" r="1.55"/><circle cx="67.86" cy="188.20" r="1.55"/><circle cx="71.90" cy="188.20" r="1.55"/><circle cx="75.94" cy="188.20" r="1.55"/><circle cx="79.98" cy="188.20" r="1.55"/><circle cx="84.02" cy="188.20" r="1.55"/><circle cx="88.06" cy="188.20" r="1.55"/><circle cx="92.10" cy="188.20" r="1.55"/><circle cx="96.14" cy="188.20" r="1.55"/><circle cx="100.18" cy="188.20" r="1.55"/><circle cx="104.22" cy="188.20" r="1.55"/><circle cx="108.26" cy="188.20" r="1.55"/><circle cx="51.70" cy="193.24" r="1.55"/><circle cx="55.74" cy="193.24" r="1.55"/><circle cx="59.78" cy="193.24" r="1.55"/><circle cx="63.82" cy="193.24" r="1.55"/><circle cx="67.86" cy="193.24" r="1.55"/><circle cx="71.90" cy="193.24" r="1.55"/><circle cx="75.94" cy="193.24" r="1.55"/><circle cx="79.98" cy="193.24" r="1.55"/><circle cx="84.02" cy="193.24" r="1.55"/><circle cx="88.06" cy="193.24" r="1.55"/><circle cx="92.10" cy="193.24" r="1.55"/><circle cx="96.14" cy="193.24" r="1.55"/><circle cx="100.18" cy="193.24" r="1.55"/><circle cx="104.22" cy="193.24" r="1.55"/><circle cx="108.26" cy="193.24" r="1.55"/></g><g fill="none" stroke="#6e6e6e" stroke-width="0.7"><circle cx="51.70" cy="219.40" r="1.55"/><circle cx="55.74" cy="219.40" r="1.55"/><circle cx="59.78" cy="219.40" r="1.55"/><circle cx="63.82" cy="219.40" r="1.55"/><circle cx="67.86" cy="219.40" r="1.55"/><circle cx="71.90" cy="219.40" r="1.55"/><circle cx="75.94" cy="219.40" r="1.55"/><circle cx="79.98" cy="219.40" r="1.55"/><circle cx="84.02" cy="219.40" r="1.55"/><circle cx="88.06" cy="219.40" r="1.55"/><circle cx="92.10" cy="219.40" r="1.55"/><circle cx="96.14" cy="219.40" r="1.55"/><circle cx="100.18" cy="219.40" r="1.55"/><circle cx="104.22" cy="219.40" r="1.55"/><circle cx="108.26" cy="219.40" r="1.55"/><circle cx="51.70" cy="224.44" r="1.55"/><circle cx="55.74" cy="224.44" r="1.55"/><circle cx="59.78" cy="224.44" r="1.55"/><circle cx="63.82" cy="224.44" r="1.55"/><circle cx="67.86" cy="224.44" r="1.55"/><circle cx="71.90" cy="224.44" r="1.55"/><circle cx="75.94" cy="224.44" r="1.55"/><circle cx="79.98" cy="224.44" r="1.55"/><circle cx="84.02" cy="224.44" r="1.55"/><circle cx="88.06" cy="224.44" r="1.55"/><circle cx="92.10" cy="224.44" r="1.55"/><circle cx="96.14" cy="224.44" r="1.55"/><circle cx="100.18" cy="224.44" r="1.55"/><circle cx="104.22" cy="224.44" r="1.55"/><circle cx="108.26" cy="224.44" r="1.55"/><circle cx="51.70" cy="229.48" r="1.55"/><circle cx="55.74" cy="229.48" r="1.55"/><circle cx="59.78" cy="229.48" r="1.55"/><circle cx="63.82" cy="229.48" r="1.55"/><circle cx="67.86" cy="229.48" r="1.55"/><circle cx="71.90" cy="229.48" r="1.55"/><circle cx="75.94" cy="229.48" r="1.55"/><circle cx="79.98" cy="229.48" r="1.55"/><circle cx="84.02" cy="229.48" r="1.55"/><circle cx="88.06" cy="229.48" r="1.55"/><circle cx="92.10" cy="229.48" r="1.55"/><circle cx="96.14" cy="229.48" r="1.55"/><circle cx="100.18" cy="229.48" r="1.55"/><circle cx="104.22" cy="229.48" r="1.55"/><circle cx="108.26" cy="229.48" r="1.55"/><circle cx="51.70" cy="234.52" r="1.55"/><circle cx="55.74" cy="234.52" r="1.55"/><circle cx="59.78" cy="234.52" r="1.55"/><circle cx="63.82" cy="234.52" r="1.55"/><circle cx="67.86" cy="234.52" r="1.55"/><circle cx="71.90" cy="234.52" r="1.55"/><circle cx="75.94" cy="234.52" r="1.55"/><circle cx="79.98" cy="234.52" r="1.55"/><circle cx="84.02" cy="234.52" r="1.55"/><circle cx="88.06" cy="234.52" r="1.55"/><circle cx="92.10" cy="234.52" r="1.55"/><circle cx="96.14" cy="234.52" r="1.55"/><circle cx="100.18" cy="234.52" r="1.55"/><circle cx="104.22" cy="234.52" r="1.55"/><circle cx="108.26" cy="234.52" r="1.55"/><circle cx="51.70" cy="239.56" r="1.55"/><circle cx="55.74" cy="239.56" r="1.55"/><circle cx="59.78" cy="239.56" r="1.55"/><circle cx="63.82" cy="239.56" r="1.55"/><circle cx="67.86" cy="239.56" r="1.55"/><circle cx="71.90" cy="239.56" r="1.55"/><circle cx="75.94" cy="239.56" r="1.55"/><circle cx="79.98" cy="239.56" r="1.55"/><circle cx="84.02" cy="239.56" r="1.55"/><circle cx="88.06" cy="239.56" r="1.55"/><circle cx="92.10" cy="239.56" r="1.55"/><circle cx="96.14" cy="239.56" r="1.55"/><circle cx="100.18" cy="239.56" r="1.55"/><circle cx="104.22" cy="239.56" r="1.55"/><circle cx="108.26" cy="239.56" r="1.55"/><circle cx="51.70" cy="244.60" r="1.55"/><circle cx="55.74" cy="244.60" r="1.55"/><circle cx="59.78" cy="244.60" r="1.55"/><circle cx="63.82" cy="244.60" r="1.55"/><circle cx="67.86" cy="244.60" r="1.55"/><circle cx="71.90" cy="244.60" r="1.55"/><circle cx="75.94" cy="244.60" r="1.55"/><circle cx="79.98" cy="244.60" r="1.55"/><circle cx="84.02" cy="244.60" r="1.55"/><circle cx="88.06" cy="244.60" r="1.55"/><circle cx="92.10" cy="244.60" r="1.55"/><circle cx="96.14" cy="244.60" r="1.55"/><circle cx="100.18" cy="244.60" r="1.55"/><circle cx="104.22" cy="244.60" r="1.55"/><circle cx="108.26" cy="244.60" r="1.55"/><circle cx="51.70" cy="249.64" r="1.55"/><circle cx="55.74" cy="249.64" r="1.55"/><circle cx="59.78" cy="249.64" r="1.55"/><circle cx="63.82" cy="249.64" r="1.55"/><circle cx="67.86" cy="249.64" r="1.55"/><circle cx="71.90" cy="249.64" r="1.55"/><circle cx="75.94" cy="249.64" r="1.55"/><circle cx="79.98" cy="249.64" r="1.55"/><circle cx="84.02" cy="249.64" r="1.55"/><circle cx="88.06" cy="249.64" r="1.55"/><circle cx="92.10" cy="249.64" r="1.55"/><circle cx="96.14" cy="249.64" r="1.55"/><circle cx="100.18" cy="249.64" r="1.55"/><circle cx="104.22" cy="249.64" r="1.55"/><circle cx="108.26" cy="249.64" r="1.55"/><circle cx="51.70" cy="254.68" r="1.55"/><circle cx="55.74" cy="254.68" r="1.55"/><circle cx="59.78" cy="254.68" r="1.55"/><circle cx="63.82" cy="254.68" r="1.55"/><circle cx="67.86" cy="254.68" r="1.55"/><circle cx="71.90" cy="254.68" r="1.55"/><circle cx="75.94" cy="254.68" r="1.55"/><circle cx="79.98" cy="254.68" r="1.55"/><circle cx="84.02" cy="254.68" r="1.55"/><circle cx="88.06" cy="254.68" r="1.55"/><circle cx="92.10" cy="254.68" r="1.55"/><circle cx="96.14" cy="254.68" r="1.55"/><circle cx="100.18" cy="254.68" r="1.55"/><circle cx="104.22" cy="254.68" r="1.55"/><circle cx="108.26" cy="254.68" r="1.55"/><circle cx="51.70" cy="259.72" r="1.55"/><circle cx="55.74" cy="259.72" r="1.55"/><circle cx="59.78" cy="259.72" r="1.55"/><circle cx="63.82" cy="259.72" r="1.55"/><circle cx="67.86" cy="259.72" r="1.55"/><circle cx="71.90" cy="259.72" r="1.55"/><circle cx="75.94" cy="259.72" r="1.55"/><circle cx="79.98" cy="259.72" r="1.55"/><circle cx="84.02" cy="259.72" r="1.55"/><circle cx="88.06" cy="259.72" r="1.55"/><circle cx="92.10" cy="259.72" r="1.55"/><circle cx="96.14" cy="259.72" r="1.55"/><circle cx="100.18" cy="259.72" r="1.55"/><circle cx="104.22" cy="259.72" r="1.55"/><circle cx="108.26" cy="259.72" r="1.55"/><circle cx="51.70" cy="264.76" r="1.55"/><circle cx="55.74" cy="264.76" r="1.55"/><circle cx="59.78" cy="264.76" r="1.55"/><circle cx="63.82" cy="264.76" r="1.55"/><circle cx="67.86" cy="264.76" r="1.55"/><circle cx="71.90" cy="264.76" r="1.55"/><circle cx="75.94" cy="264.76" r="1.55"/><circle cx="79.98" cy="264.76" r="1.55"/><circle cx="84.02" cy="264.76" r="1.55"/><circle cx="88.06" cy="264.76" r="1.55"/><circle cx="92.10" cy="264.76" r="1.55"/><circle cx="96.14" cy="264.76" r="1.55"/><circle cx="100.18" cy="264.76" r="1.55"/><circle cx="104.22" cy="264.76" r="1.55"/><circle cx="108.26" cy="264.76" r="1.55"/><circle cx="51.70" cy="269.80" r="1.55"/><circle cx="55.74" cy="269.80" r="1.55"/><circle cx="59.78" cy="269.80" r="1.55"/><circle cx="63.82" cy="269.80" r="1.55"/><circle cx="67.86" cy="269.80" r="1.55"/><circle cx="71.90" cy="269.80" r="1.55"/><circle cx="75.94" cy="269.80" r="1.55"/><circle cx="79.98" cy="269.80" r="1.55"/><circle cx="84.02" cy="269.80" r="1.55"/><circle cx="88.06" cy="269.80" r="1.55"/><circle cx="92.10" cy="269.80" r="1.55"/><circle cx="96.14" cy="269.80" r="1.55"/><circle cx="100.18" cy="269.80" r="1.55"/><circle cx="104.22" cy="269.80" r="1.55"/><circle cx="108.26" cy="269.80" r="1.55"/><circle cx="51.70" cy="274.84" r="1.55"/><circle cx="55.74" cy="274.84" r="1.55"/><circle cx="59.78" cy="274.84" r="1.55"/><circle cx="63.82" cy="274.84" r="1.55"/><circle cx="67.86" cy="274.84" r="1.55"/><circle cx="71.90" cy="274.84" r="1.55"/><circle cx="75.94" cy="274.84" r="1.55"/><circle cx="79.98" cy="274.84" r="1.55"/><circle cx="84.02" cy="274.84" r="1.55"/><circle cx="88.06" cy="274.84" r="1.55"/><circle cx="92.10" cy="274.84" r="1.55"/><circle cx="96.14" cy="274.84" r="1.55"/><circle cx="100.18" cy="274.84" r="1.55"/><circle cx="104.22" cy="274.84" r="1.55"/><circle cx="108.26" cy="274.84" r="1.55"/></g></g>
<g transform="translate(971,54) scale(0.8125)"><rect x="0" y="0" width="160" height="420" fill="url(#mgrad)" stroke="#7a7a7a" stroke-width="1.1"/><rect x="0" y="0" width="160" height="420" fill="url(#msheen)"/><circle cx="80" cy="70" r="28" fill="url(#camg)" stroke="#3a3a3a" stroke-width="1.2"/><circle cx="80" cy="70" r="23.5" fill="url(#camin)"/><circle cx="95.5" cy="70.0" r="2.1" fill="#f4f4f4"/><circle cx="93.4" cy="77.8" r="2.1" fill="#f4f4f4"/><circle cx="87.8" cy="83.4" r="2.1" fill="#f4f4f4"/><circle cx="80.0" cy="85.5" r="2.1" fill="#f4f4f4"/><circle cx="72.2" cy="83.4" r="2.1" fill="#f4f4f4"/><circle cx="66.6" cy="77.8" r="2.1" fill="#f4f4f4"/><circle cx="64.5" cy="70.0" r="2.1" fill="#f4f4f4"/><circle cx="66.6" cy="62.3" r="2.1" fill="#f4f4f4"/><circle cx="72.2" cy="56.6" r="2.1" fill="#f4f4f4"/><circle cx="80.0" cy="54.5" r="2.1" fill="#f4f4f4"/><circle cx="87.8" cy="56.6" r="2.1" fill="#f4f4f4"/><circle cx="93.4" cy="62.2" r="2.1" fill="#f4f4f4"/><path d="M60 75.5 L100.4 65 L100.4 70.5 L59.8 80.5Z" fill="#f0f0f0" opacity="0.85"/><line x1="59.8" y1="70.9" x2="100.4" y2="60.4" stroke="#2a2a2a" stroke-width="1.1"/><line x1="59.8" y1="80.5" x2="100.4" y2="70.5" stroke="#2a2a2a" stroke-width="1.1"/><text x="80" y="119" font-size="7.6" font-weight="bold" fill="#1e1e1e" stroke="#1e1e1e" stroke-width="0.5" text-anchor="middle" textLength="31" lengthAdjust="spacingAndGlyphs">GROTHE</text><g fill="#a8a8a8" stroke="#555" stroke-width="0.65"><circle cx="51.70" cy="137.80" r="1.6"/><circle cx="55.74" cy="137.80" r="1.6"/><circle cx="59.78" cy="137.80" r="1.6"/><circle cx="63.82" cy="137.80" r="1.6"/><circle cx="67.86" cy="137.80" r="1.6"/><circle cx="71.90" cy="137.80" r="1.6"/><circle cx="75.94" cy="137.80" r="1.6"/><circle cx="79.98" cy="137.80" r="1.6"/><circle cx="84.02" cy="137.80" r="1.6"/><circle cx="88.06" cy="137.80" r="1.6"/><circle cx="92.10" cy="137.80" r="1.6"/><circle cx="96.14" cy="137.80" r="1.6"/><circle cx="100.18" cy="137.80" r="1.6"/><circle cx="104.22" cy="137.80" r="1.6"/><circle cx="108.26" cy="137.80" r="1.6"/><circle cx="51.70" cy="142.84" r="1.6"/><circle cx="55.74" cy="142.84" r="1.6"/><circle cx="59.78" cy="142.84" r="1.6"/><circle cx="63.82" cy="142.84" r="1.6"/><circle cx="67.86" cy="142.84" r="1.6"/><circle cx="71.90" cy="142.84" r="1.6"/><circle cx="75.94" cy="142.84" r="1.6"/><circle cx="79.98" cy="142.84" r="1.6"/><circle cx="84.02" cy="142.84" r="1.6"/><circle cx="88.06" cy="142.84" r="1.6"/><circle cx="92.10" cy="142.84" r="1.6"/><circle cx="96.14" cy="142.84" r="1.6"/><circle cx="100.18" cy="142.84" r="1.6"/><circle cx="104.22" cy="142.84" r="1.6"/><circle cx="108.26" cy="142.84" r="1.6"/><circle cx="51.70" cy="147.88" r="1.6"/><circle cx="55.74" cy="147.88" r="1.6"/><circle cx="59.78" cy="147.88" r="1.6"/><circle cx="63.82" cy="147.88" r="1.6"/><circle cx="67.86" cy="147.88" r="1.6"/><circle cx="71.90" cy="147.88" r="1.6"/><circle cx="75.94" cy="147.88" r="1.6"/><circle cx="79.98" cy="147.88" r="1.6"/><circle cx="84.02" cy="147.88" r="1.6"/><circle cx="88.06" cy="147.88" r="1.6"/><circle cx="92.10" cy="147.88" r="1.6"/><circle cx="96.14" cy="147.88" r="1.6"/><circle cx="100.18" cy="147.88" r="1.6"/><circle cx="104.22" cy="147.88" r="1.6"/><circle cx="108.26" cy="147.88" r="1.6"/><circle cx="51.70" cy="152.92" r="1.6"/><circle cx="55.74" cy="152.92" r="1.6"/><circle cx="59.78" cy="152.92" r="1.6"/><circle cx="63.82" cy="152.92" r="1.6"/><circle cx="67.86" cy="152.92" r="1.6"/><circle cx="71.90" cy="152.92" r="1.6"/><circle cx="75.94" cy="152.92" r="1.6"/><circle cx="79.98" cy="152.92" r="1.6"/><circle cx="84.02" cy="152.92" r="1.6"/><circle cx="88.06" cy="152.92" r="1.6"/><circle cx="92.10" cy="152.92" r="1.6"/><circle cx="96.14" cy="152.92" r="1.6"/><circle cx="100.18" cy="152.92" r="1.6"/><circle cx="104.22" cy="152.92" r="1.6"/><circle cx="108.26" cy="152.92" r="1.6"/><circle cx="51.70" cy="157.96" r="1.6"/><circle cx="55.74" cy="157.96" r="1.6"/><circle cx="59.78" cy="157.96" r="1.6"/><circle cx="63.82" cy="157.96" r="1.6"/><circle cx="67.86" cy="157.96" r="1.6"/><circle cx="71.90" cy="157.96" r="1.6"/><circle cx="75.94" cy="157.96" r="1.6"/><circle cx="79.98" cy="157.96" r="1.6"/><circle cx="84.02" cy="157.96" r="1.6"/><circle cx="88.06" cy="157.96" r="1.6"/><circle cx="92.10" cy="157.96" r="1.6"/><circle cx="96.14" cy="157.96" r="1.6"/><circle cx="100.18" cy="157.96" r="1.6"/><circle cx="104.22" cy="157.96" r="1.6"/><circle cx="108.26" cy="157.96" r="1.6"/><circle cx="51.70" cy="163.00" r="1.6"/><circle cx="55.74" cy="163.00" r="1.6"/><circle cx="59.78" cy="163.00" r="1.6"/><circle cx="63.82" cy="163.00" r="1.6"/><circle cx="67.86" cy="163.00" r="1.6"/><circle cx="71.90" cy="163.00" r="1.6"/><circle cx="75.94" cy="163.00" r="1.6"/><circle cx="79.98" cy="163.00" r="1.6"/><circle cx="84.02" cy="163.00" r="1.6"/><circle cx="88.06" cy="163.00" r="1.6"/><circle cx="92.10" cy="163.00" r="1.6"/><circle cx="96.14" cy="163.00" r="1.6"/><circle cx="100.18" cy="163.00" r="1.6"/><circle cx="104.22" cy="163.00" r="1.6"/><circle cx="108.26" cy="163.00" r="1.6"/><circle cx="51.70" cy="168.04" r="1.6"/><circle cx="55.74" cy="168.04" r="1.6"/><circle cx="59.78" cy="168.04" r="1.6"/><circle cx="63.82" cy="168.04" r="1.6"/><circle cx="67.86" cy="168.04" r="1.6"/><circle cx="71.90" cy="168.04" r="1.6"/><circle cx="75.94" cy="168.04" r="1.6"/><circle cx="79.98" cy="168.04" r="1.6"/><circle cx="84.02" cy="168.04" r="1.6"/><circle cx="88.06" cy="168.04" r="1.6"/><circle cx="92.10" cy="168.04" r="1.6"/><circle cx="96.14" cy="168.04" r="1.6"/><circle cx="100.18" cy="168.04" r="1.6"/><circle cx="104.22" cy="168.04" r="1.6"/><circle cx="108.26" cy="168.04" r="1.6"/><circle cx="51.70" cy="173.08" r="1.6"/><circle cx="55.74" cy="173.08" r="1.6"/><circle cx="59.78" cy="173.08" r="1.6"/><circle cx="63.82" cy="173.08" r="1.6"/><circle cx="67.86" cy="173.08" r="1.6"/><circle cx="71.90" cy="173.08" r="1.6"/><circle cx="75.94" cy="173.08" r="1.6"/><circle cx="79.98" cy="173.08" r="1.6"/><circle cx="84.02" cy="173.08" r="1.6"/><circle cx="88.06" cy="173.08" r="1.6"/><circle cx="92.10" cy="173.08" r="1.6"/><circle cx="96.14" cy="173.08" r="1.6"/><circle cx="100.18" cy="173.08" r="1.6"/><circle cx="104.22" cy="173.08" r="1.6"/><circle cx="108.26" cy="173.08" r="1.6"/><circle cx="51.70" cy="178.12" r="1.6"/><circle cx="55.74" cy="178.12" r="1.6"/><circle cx="59.78" cy="178.12" r="1.6"/><circle cx="63.82" cy="178.12" r="1.6"/><circle cx="67.86" cy="178.12" r="1.6"/><circle cx="71.90" cy="178.12" r="1.6"/><circle cx="75.94" cy="178.12" r="1.6"/><circle cx="79.98" cy="178.12" r="1.6"/><circle cx="84.02" cy="178.12" r="1.6"/><circle cx="88.06" cy="178.12" r="1.6"/><circle cx="92.10" cy="178.12" r="1.6"/><circle cx="96.14" cy="178.12" r="1.6"/><circle cx="100.18" cy="178.12" r="1.6"/><circle cx="104.22" cy="178.12" r="1.6"/><circle cx="108.26" cy="178.12" r="1.6"/><circle cx="51.70" cy="183.16" r="1.6"/><circle cx="55.74" cy="183.16" r="1.6"/><circle cx="59.78" cy="183.16" r="1.6"/><circle cx="63.82" cy="183.16" r="1.6"/><circle cx="67.86" cy="183.16" r="1.6"/><circle cx="71.90" cy="183.16" r="1.6"/><circle cx="75.94" cy="183.16" r="1.6"/><circle cx="79.98" cy="183.16" r="1.6"/><circle cx="84.02" cy="183.16" r="1.6"/><circle cx="88.06" cy="183.16" r="1.6"/><circle cx="92.10" cy="183.16" r="1.6"/><circle cx="96.14" cy="183.16" r="1.6"/><circle cx="100.18" cy="183.16" r="1.6"/><circle cx="104.22" cy="183.16" r="1.6"/><circle cx="108.26" cy="183.16" r="1.6"/><circle cx="51.70" cy="188.20" r="1.6"/><circle cx="55.74" cy="188.20" r="1.6"/><circle cx="59.78" cy="188.20" r="1.6"/><circle cx="63.82" cy="188.20" r="1.6"/><circle cx="67.86" cy="188.20" r="1.6"/><circle cx="71.90" cy="188.20" r="1.6"/><circle cx="75.94" cy="188.20" r="1.6"/><circle cx="79.98" cy="188.20" r="1.6"/><circle cx="84.02" cy="188.20" r="1.6"/><circle cx="88.06" cy="188.20" r="1.6"/><circle cx="92.10" cy="188.20" r="1.6"/><circle cx="96.14" cy="188.20" r="1.6"/><circle cx="100.18" cy="188.20" r="1.6"/><circle cx="104.22" cy="188.20" r="1.6"/><circle cx="108.26" cy="188.20" r="1.6"/><circle cx="51.70" cy="193.24" r="1.6"/><circle cx="55.74" cy="193.24" r="1.6"/><circle cx="59.78" cy="193.24" r="1.6"/><circle cx="63.82" cy="193.24" r="1.6"/><circle cx="67.86" cy="193.24" r="1.6"/><circle cx="71.90" cy="193.24" r="1.6"/><circle cx="75.94" cy="193.24" r="1.6"/><circle cx="79.98" cy="193.24" r="1.6"/><circle cx="84.02" cy="193.24" r="1.6"/><circle cx="88.06" cy="193.24" r="1.6"/><circle cx="92.10" cy="193.24" r="1.6"/><circle cx="96.14" cy="193.24" r="1.6"/><circle cx="100.18" cy="193.24" r="1.6"/><circle cx="104.22" cy="193.24" r="1.6"/><circle cx="108.26" cy="193.24" r="1.6"/></g><g fill="#a8a8a8" stroke="#555" stroke-width="0.65"><circle cx="51.70" cy="219.40" r="1.6"/><circle cx="55.74" cy="219.40" r="1.6"/><circle cx="59.78" cy="219.40" r="1.6"/><circle cx="63.82" cy="219.40" r="1.6"/><circle cx="67.86" cy="219.40" r="1.6"/><circle cx="71.90" cy="219.40" r="1.6"/><circle cx="75.94" cy="219.40" r="1.6"/><circle cx="79.98" cy="219.40" r="1.6"/><circle cx="84.02" cy="219.40" r="1.6"/><circle cx="88.06" cy="219.40" r="1.6"/><circle cx="92.10" cy="219.40" r="1.6"/><circle cx="96.14" cy="219.40" r="1.6"/><circle cx="100.18" cy="219.40" r="1.6"/><circle cx="104.22" cy="219.40" r="1.6"/><circle cx="108.26" cy="219.40" r="1.6"/><circle cx="51.70" cy="224.44" r="1.6"/><circle cx="55.74" cy="224.44" r="1.6"/><circle cx="59.78" cy="224.44" r="1.6"/><circle cx="63.82" cy="224.44" r="1.6"/><circle cx="67.86" cy="224.44" r="1.6"/><circle cx="71.90" cy="224.44" r="1.6"/><circle cx="75.94" cy="224.44" r="1.6"/><circle cx="79.98" cy="224.44" r="1.6"/><circle cx="84.02" cy="224.44" r="1.6"/><circle cx="88.06" cy="224.44" r="1.6"/><circle cx="92.10" cy="224.44" r="1.6"/><circle cx="96.14" cy="224.44" r="1.6"/><circle cx="100.18" cy="224.44" r="1.6"/><circle cx="104.22" cy="224.44" r="1.6"/><circle cx="108.26" cy="224.44" r="1.6"/><circle cx="51.70" cy="229.48" r="1.6"/><circle cx="55.74" cy="229.48" r="1.6"/><circle cx="59.78" cy="229.48" r="1.6"/><circle cx="63.82" cy="229.48" r="1.6"/><circle cx="67.86" cy="229.48" r="1.6"/><circle cx="71.90" cy="229.48" r="1.6"/><circle cx="75.94" cy="229.48" r="1.6"/><circle cx="79.98" cy="229.48" r="1.6"/><circle cx="84.02" cy="229.48" r="1.6"/><circle cx="88.06" cy="229.48" r="1.6"/><circle cx="92.10" cy="229.48" r="1.6"/><circle cx="96.14" cy="229.48" r="1.6"/><circle cx="100.18" cy="229.48" r="1.6"/><circle cx="104.22" cy="229.48" r="1.6"/><circle cx="108.26" cy="229.48" r="1.6"/><circle cx="51.70" cy="234.52" r="1.6"/><circle cx="55.74" cy="234.52" r="1.6"/><circle cx="59.78" cy="234.52" r="1.6"/><circle cx="63.82" cy="234.52" r="1.6"/><circle cx="67.86" cy="234.52" r="1.6"/><circle cx="71.90" cy="234.52" r="1.6"/><circle cx="75.94" cy="234.52" r="1.6"/><circle cx="79.98" cy="234.52" r="1.6"/><circle cx="84.02" cy="234.52" r="1.6"/><circle cx="88.06" cy="234.52" r="1.6"/><circle cx="92.10" cy="234.52" r="1.6"/><circle cx="96.14" cy="234.52" r="1.6"/><circle cx="100.18" cy="234.52" r="1.6"/><circle cx="104.22" cy="234.52" r="1.6"/><circle cx="108.26" cy="234.52" r="1.6"/><circle cx="51.70" cy="239.56" r="1.6"/><circle cx="55.74" cy="239.56" r="1.6"/><circle cx="59.78" cy="239.56" r="1.6"/><circle cx="63.82" cy="239.56" r="1.6"/><circle cx="67.86" cy="239.56" r="1.6"/><circle cx="71.90" cy="239.56" r="1.6"/><circle cx="75.94" cy="239.56" r="1.6"/><circle cx="79.98" cy="239.56" r="1.6"/><circle cx="84.02" cy="239.56" r="1.6"/><circle cx="88.06" cy="239.56" r="1.6"/><circle cx="92.10" cy="239.56" r="1.6"/><circle cx="96.14" cy="239.56" r="1.6"/><circle cx="100.18" cy="239.56" r="1.6"/><circle cx="104.22" cy="239.56" r="1.6"/><circle cx="108.26" cy="239.56" r="1.6"/><circle cx="51.70" cy="244.60" r="1.6"/><circle cx="55.74" cy="244.60" r="1.6"/><circle cx="59.78" cy="244.60" r="1.6"/><circle cx="63.82" cy="244.60" r="1.6"/><circle cx="67.86" cy="244.60" r="1.6"/><circle cx="71.90" cy="244.60" r="1.6"/><circle cx="75.94" cy="244.60" r="1.6"/><circle cx="79.98" cy="244.60" r="1.6"/><circle cx="84.02" cy="244.60" r="1.6"/><circle cx="88.06" cy="244.60" r="1.6"/><circle cx="92.10" cy="244.60" r="1.6"/><circle cx="96.14" cy="244.60" r="1.6"/><circle cx="100.18" cy="244.60" r="1.6"/><circle cx="104.22" cy="244.60" r="1.6"/><circle cx="108.26" cy="244.60" r="1.6"/><circle cx="51.70" cy="249.64" r="1.6"/><circle cx="55.74" cy="249.64" r="1.6"/><circle cx="59.78" cy="249.64" r="1.6"/><circle cx="63.82" cy="249.64" r="1.6"/><circle cx="67.86" cy="249.64" r="1.6"/><circle cx="71.90" cy="249.64" r="1.6"/><circle cx="75.94" cy="249.64" r="1.6"/><circle cx="79.98" cy="249.64" r="1.6"/><circle cx="84.02" cy="249.64" r="1.6"/><circle cx="88.06" cy="249.64" r="1.6"/><circle cx="92.10" cy="249.64" r="1.6"/><circle cx="96.14" cy="249.64" r="1.6"/><circle cx="100.18" cy="249.64" r="1.6"/><circle cx="104.22" cy="249.64" r="1.6"/><circle cx="108.26" cy="249.64" r="1.6"/><circle cx="51.70" cy="254.68" r="1.6"/><circle cx="55.74" cy="254.68" r="1.6"/><circle cx="59.78" cy="254.68" r="1.6"/><circle cx="63.82" cy="254.68" r="1.6"/><circle cx="67.86" cy="254.68" r="1.6"/><circle cx="71.90" cy="254.68" r="1.6"/><circle cx="75.94" cy="254.68" r="1.6"/><circle cx="79.98" cy="254.68" r="1.6"/><circle cx="84.02" cy="254.68" r="1.6"/><circle cx="88.06" cy="254.68" r="1.6"/><circle cx="92.10" cy="254.68" r="1.6"/><circle cx="96.14" cy="254.68" r="1.6"/><circle cx="100.18" cy="254.68" r="1.6"/><circle cx="104.22" cy="254.68" r="1.6"/><circle cx="108.26" cy="254.68" r="1.6"/><circle cx="51.70" cy="259.72" r="1.6"/><circle cx="55.74" cy="259.72" r="1.6"/><circle cx="59.78" cy="259.72" r="1.6"/><circle cx="63.82" cy="259.72" r="1.6"/><circle cx="67.86" cy="259.72" r="1.6"/><circle cx="71.90" cy="259.72" r="1.6"/><circle cx="75.94" cy="259.72" r="1.6"/><circle cx="79.98" cy="259.72" r="1.6"/><circle cx="84.02" cy="259.72" r="1.6"/><circle cx="88.06" cy="259.72" r="1.6"/><circle cx="92.10" cy="259.72" r="1.6"/><circle cx="96.14" cy="259.72" r="1.6"/><circle cx="100.18" cy="259.72" r="1.6"/><circle cx="104.22" cy="259.72" r="1.6"/><circle cx="108.26" cy="259.72" r="1.6"/><circle cx="51.70" cy="264.76" r="1.6"/><circle cx="55.74" cy="264.76" r="1.6"/><circle cx="59.78" cy="264.76" r="1.6"/><circle cx="63.82" cy="264.76" r="1.6"/><circle cx="67.86" cy="264.76" r="1.6"/><circle cx="71.90" cy="264.76" r="1.6"/><circle cx="75.94" cy="264.76" r="1.6"/><circle cx="79.98" cy="264.76" r="1.6"/><circle cx="84.02" cy="264.76" r="1.6"/><circle cx="88.06" cy="264.76" r="1.6"/><circle cx="92.10" cy="264.76" r="1.6"/><circle cx="96.14" cy="264.76" r="1.6"/><circle cx="100.18" cy="264.76" r="1.6"/><circle cx="104.22" cy="264.76" r="1.6"/><circle cx="108.26" cy="264.76" r="1.6"/><circle cx="51.70" cy="269.80" r="1.6"/><circle cx="55.74" cy="269.80" r="1.6"/><circle cx="59.78" cy="269.80" r="1.6"/><circle cx="63.82" cy="269.80" r="1.6"/><circle cx="67.86" cy="269.80" r="1.6"/><circle cx="71.90" cy="269.80" r="1.6"/><circle cx="75.94" cy="269.80" r="1.6"/><circle cx="79.98" cy="269.80" r="1.6"/><circle cx="84.02" cy="269.80" r="1.6"/><circle cx="88.06" cy="269.80" r="1.6"/><circle cx="92.10" cy="269.80" r="1.6"/><circle cx="96.14" cy="269.80" r="1.6"/><circle cx="100.18" cy="269.80" r="1.6"/><circle cx="104.22" cy="269.80" r="1.6"/><circle cx="108.26" cy="269.80" r="1.6"/><circle cx="51.70" cy="274.84" r="1.6"/><circle cx="55.74" cy="274.84" r="1.6"/><circle cx="59.78" cy="274.84" r="1.6"/><circle cx="63.82" cy="274.84" r="1.6"/><circle cx="67.86" cy="274.84" r="1.6"/><circle cx="71.90" cy="274.84" r="1.6"/><circle cx="75.94" cy="274.84" r="1.6"/><circle cx="79.98" cy="274.84" r="1.6"/><circle cx="84.02" cy="274.84" r="1.6"/><circle cx="88.06" cy="274.84" r="1.6"/><circle cx="92.10" cy="274.84" r="1.6"/><circle cx="96.14" cy="274.84" r="1.6"/><circle cx="100.18" cy="274.84" r="1.6"/><circle cx="104.22" cy="274.84" r="1.6"/><circle cx="108.26" cy="274.84" r="1.6"/></g><circle cx="51" cy="305" r="11" fill="#d0d0d0" stroke="#3a3a3a" stroke-width="1.1"/><circle cx="51" cy="305" r="8.4" fill="url(#btng)" stroke="#666" stroke-width="0.7"/><rect x="66" y="296.6" width="53.8" height="17.2" rx="8.6" fill="#c4c4c4" stroke="#333" stroke-width="1.1"/><rect x="71" y="298.3" width="43.8" height="13.8" fill="#f2f2f2" stroke="#777" stroke-width="0.6"/><line x1="74" y1="307.5" x2="106" y2="301" stroke="#333" stroke-width="0.9"/><line x1="80" y1="311" x2="112" y2="304.5" stroke="#333" stroke-width="0.9"/><rect x="40" y="325" width="80.5" height="72" rx="9" fill="none" stroke="#3a3a3a" stroke-width="0.9" stroke-dasharray="3 2"/><g stroke="#3a3a3a" stroke-width="0.8"><path d="M48.4 333h6M51.4 330v6"/><path d="M105 333h6M108 330v6"/><path d="M48.4 388.2h6M51.4 385.2v6"/><path d="M105 388.2h6M108 385.2v6"/></g><g fill="#555" opacity="0.7"><rect x="42" y="326.9" width="18" height="1.1"/><rect x="46" y="328.8" width="10" height="1.1"/><rect x="99" y="326.9" width="18" height="1.1"/><rect x="103" y="328.8" width="10" height="1.1"/><rect x="42" y="380.4" width="18" height="1.1"/><rect x="46" y="382.3" width="10" height="1.1"/><rect x="99" y="380.4" width="18" height="1.1"/><rect x="103" y="382.3" width="10" height="1.1"/></g><rect x="58.2" y="341" width="44.7" height="36.4" fill="#6c6c6c" stroke="#2a2a2a" stroke-width="1"/><rect x="58.2" y="341" width="44.7" height="3" fill="#8a8a8a"/><rect x="67.8" y="344" width="25.2" height="33.4" fill="#7c7c7c" stroke="#333" stroke-width="0.6"/><rect x="71.1" y="345.8" width="17.3" height="30" fill="#a8a8a8" stroke="#333" stroke-width="0.7"/><rect x="73.5" y="347.5" width="5.5" height="12" fill="none" stroke="#333" stroke-width="0.9"/><rect x="80.5" y="347.5" width="5.5" height="12" fill="none" stroke="#333" stroke-width="0.9"/><line x1="73.5" y1="353.5" x2="79" y2="353.5" stroke="#333" stroke-width="0.8"/><line x1="80.5" y1="353.5" x2="86" y2="353.5" stroke="#333" stroke-width="0.8"/><rect x="72.5" y="362" width="14.5" height="12" fill="#1a1a1a"/><path d="M75 368l4 -4v8zM85 368l-4 -4v8z" fill="#e0e0e0"/><circle cx="20" cy="20" r="4.2" fill="#e4e4e4" stroke="#2e2e2e" stroke-width="1.1"/><circle cx="20" cy="20" r="1.9" fill="#222"/><circle cx="140" cy="20" r="4.2" fill="#e4e4e4" stroke="#2e2e2e" stroke-width="1.1"/><circle cx="140" cy="20" r="1.9" fill="#222"/><circle cx="20" cy="210" r="4.2" fill="#e4e4e4" stroke="#2e2e2e" stroke-width="1.1"/><circle cx="20" cy="210" r="1.9" fill="#222"/><circle cx="140" cy="210" r="4.2" fill="#e4e4e4" stroke="#2e2e2e" stroke-width="1.1"/><circle cx="140" cy="210" r="1.9" fill="#222"/><circle cx="20" cy="400" r="4.2" fill="#e4e4e4" stroke="#2e2e2e" stroke-width="1.1"/><circle cx="20" cy="400" r="1.9" fill="#222"/><circle cx="140" cy="400" r="4.2" fill="#e4e4e4" stroke="#2e2e2e" stroke-width="1.1"/><circle cx="140" cy="400" r="1.9" fill="#222"/><g stroke-width="1.2" fill="none"><line x1="0" y1="-12.4" x2="160" y2="-12.4" stroke="#8a8a8a"/><line x1="0" y1="-12.4" x2="0" y2="0" stroke="#8a8a8a"/><line x1="160" y1="-12.4" x2="160" y2="0" stroke="#8a8a8a"/><line x1="-14.8" y1="0" x2="-14.8" y2="420" stroke="#8a8a8a"/><line x1="-14.8" y1="0" x2="0" y2="0" stroke="#8a8a8a"/><line x1="-14.8" y1="420" x2="0" y2="420" stroke="#8a8a8a"/><line x1="-14.8" y1="20" x2="15.5" y2="20" stroke="#8a8a8a"/><line x1="-14.8" y1="210" x2="15.5" y2="210" stroke="#8a8a8a"/><line x1="-14.8" y1="400" x2="15.5" y2="400" stroke="#8a8a8a"/><line x1="174.8" y1="0" x2="174.8" y2="420" stroke="#8a8a8a"/><line x1="160" y1="0" x2="174.8" y2="0" stroke="#8a8a8a"/><line x1="160" y1="420" x2="174.8" y2="420" stroke="#8a8a8a"/><line x1="0" y1="440.6" x2="160" y2="440.6" stroke="#8a8a8a"/><line x1="0" y1="420" x2="0" y2="440.6" stroke="#8a8a8a"/><line x1="160" y1="420" x2="160" y2="440.6" stroke="#8a8a8a"/><line x1="20" y1="404.5" x2="20" y2="440.6" stroke="#8a8a8a"/><line x1="140" y1="404.5" x2="140" y2="440.6" stroke="#8a8a8a"/></g><g fill="#555" font-size="8.6" text-anchor="middle"><text x="80" y="-13.9">160</text><text transform="translate(-17.3,10) rotate(-90)">20</text><text transform="translate(-17.3,115) rotate(-90)">190</text><text transform="translate(-17.3,305) rotate(-90)">190</text><text transform="translate(-17.3,410) rotate(-90)">20</text><text transform="translate(172.6,210) rotate(-90)">420</text><text x="10" y="438.6">20</text><text x="80" y="438.6">120</text><text x="150" y="438.6">20</text></g></g>
<g transform="translate(165.5,61.8) rotate(38) scale(0.925)"><g stroke-width="1.0" fill="none"><line x1="0" y1="-12.4" x2="160" y2="-12.4" stroke="#3a3a3a"/><line x1="0" y1="-12.4" x2="0" y2="0" stroke="#7a7a7a"/><line x1="160" y1="-12.4" x2="160" y2="0" stroke="#7a7a7a"/><line x1="-14.8" y1="0" x2="-14.8" y2="420" stroke="#7a7a7a"/><line x1="-14.8" y1="0" x2="0" y2="0" stroke="#3a3a3a"/><line x1="-14.8" y1="420" x2="0" y2="420" stroke="#3a3a3a"/><line x1="-14.8" y1="20" x2="15.5" y2="20" stroke="#3a3a3a"/><line x1="-14.8" y1="210" x2="15.5" y2="210" stroke="#3a3a3a"/><line x1="-14.8" y1="400" x2="15.5" y2="400" stroke="#3a3a3a"/><line x1="174.8" y1="0" x2="174.8" y2="420" stroke="#7a7a7a"/><line x1="160" y1="0" x2="174.8" y2="0" stroke="#3a3a3a"/><line x1="160" y1="420" x2="174.8" y2="420" stroke="#3a3a3a"/><line x1="0" y1="440.6" x2="160" y2="440.6" stroke="#3a3a3a"/><line x1="0" y1="420" x2="0" y2="440.6" stroke="#7a7a7a"/><line x1="160" y1="420" x2="160" y2="440.6" stroke="#7a7a7a"/><line x1="20" y1="404.5" x2="20" y2="440.6" stroke="#7a7a7a"/><line x1="140" y1="404.5" x2="140" y2="440.6" stroke="#7a7a7a"/></g><g fill="#333" font-size="8.6" text-anchor="middle"><text x="80" y="-13.9">160</text><text transform="translate(-17.3,10) rotate(-90)">20</text><text transform="translate(-17.3,115) rotate(-90)">190</text><text transform="translate(-17.3,305) rotate(-90)">190</text><text transform="translate(-17.3,410) rotate(-90)">20</text><text transform="translate(172.6,210) rotate(-90)">420</text><text x="10" y="438.6">20</text><text x="80" y="438.6">120</text><text x="150" y="438.6">20</text></g><g stroke="#222" stroke-width="1.1" fill="none"><path d="M0 0H160M0 420H160" stroke="#1a1a1a"/><path d="M0 0V420M160 0V420" stroke="#5a5a5a"/><circle cx="80" cy="70" r="28"/><line x1="59.8" y1="70.9" x2="100.4" y2="60.4"/><line x1="59.8" y1="80.5" x2="100.4" y2="70.5"/><circle cx="51" cy="305" r="11"/><circle cx="51" cy="305" r="8.2"/><rect x="66" y="296.6" width="53.8" height="17.2" rx="8.6"/><line x1="71" y1="297" x2="71" y2="313.4"/><line x1="114.8" y1="297" x2="114.8" y2="313.4"/><line x1="74" y1="307.5" x2="106" y2="301"/><line x1="80" y1="311" x2="112" y2="304.5"/><rect x="40" y="325" width="80.5" height="72" rx="9" stroke-dasharray="3 2"/><path d="M48.4 333h6M51.4 330v6"/><path d="M105 333h6M108 330v6"/><path d="M48.4 388.2h6M51.4 385.2v6"/><path d="M105 388.2h6M108 385.2v6"/><rect x="58.2" y="341" width="44.7" height="36.4"/><line x1="67.8" y1="341" x2="67.8" y2="377.4"/><line x1="93" y1="341" x2="93" y2="377.4"/><line x1="58.2" y1="344" x2="102.9" y2="344"/><rect x="71.1" y="345.8" width="17.3" height="30"/></g><g fill="none" stroke="#222" stroke-width="0.9900000000000001"><rect x="73.5" y="347.5" width="5.5" height="12"/><rect x="80.5" y="347.5" width="5.5" height="12"/><path d="M73.5 353.5h5.5M80.5 353.5h5.5"/></g><rect x="72.5" y="362" width="14.5" height="12" fill="#222"/><path d="M75 368l4 -4v8zM85 368l-4 -4v8z" fill="#fff"/><text x="80" y="119.3" font-size="8" font-weight="bold" fill="#222" stroke="#222" stroke-width="1.1" stroke-linejoin="round" text-anchor="middle" textLength="30" lengthAdjust="spacingAndGlyphs">GROTHE</text><g fill="#222" opacity="0.6"><rect x="42" y="327.0" width="18" height="1.2"/><rect x="46" y="329.0" width="10" height="1.2"/><rect x="99" y="327.0" width="18" height="1.2"/><rect x="103" y="329.0" width="10" height="1.2"/><rect x="42" y="380.5" width="18" height="1.2"/><rect x="46" y="382.5" width="10" height="1.2"/><rect x="99" y="380.5" width="18" height="1.2"/><rect x="103" y="382.5" width="10" height="1.2"/></g><circle cx="20" cy="20" r="3.6" fill="none" stroke="#222" stroke-width="1.1"/><circle cx="20" cy="20" r="1.5" fill="#222"/><circle cx="140" cy="20" r="3.6" fill="none" stroke="#222" stroke-width="1.1"/><circle cx="140" cy="20" r="1.5" fill="#222"/><circle cx="20" cy="210" r="3.6" fill="none" stroke="#222" stroke-width="1.1"/><circle cx="20" cy="210" r="1.5" fill="#222"/><circle cx="140" cy="210" r="3.6" fill="none" stroke="#222" stroke-width="1.1"/><circle cx="140" cy="210" r="1.5" fill="#222"/><circle cx="20" cy="400" r="3.6" fill="none" stroke="#222" stroke-width="1.1"/><circle cx="20" cy="400" r="1.5" fill="#222"/><circle cx="140" cy="400" r="3.6" fill="none" stroke="#222" stroke-width="1.1"/><circle cx="140" cy="400" r="1.5" fill="#222"/><g fill="none" stroke="#151515" stroke-width="0.7"><circle cx="51.70" cy="137.80" r="1.55"/><circle cx="55.74" cy="137.80" r="1.55"/><circle cx="59.78" cy="137.80" r="1.55"/><circle cx="63.82" cy="137.80" r="1.55"/><circle cx="67.86" cy="137.80" r="1.55"/><circle cx="71.90" cy="137.80" r="1.55"/><circle cx="75.94" cy="137.80" r="1.55"/><circle cx="79.98" cy="137.80" r="1.55"/><circle cx="84.02" cy="137.80" r="1.55"/><circle cx="88.06" cy="137.80" r="1.55"/><circle cx="92.10" cy="137.80" r="1.55"/><circle cx="96.14" cy="137.80" r="1.55"/><circle cx="100.18" cy="137.80" r="1.55"/><circle cx="104.22" cy="137.80" r="1.55"/><circle cx="108.26" cy="137.80" r="1.55"/><circle cx="51.70" cy="142.84" r="1.55"/><circle cx="55.74" cy="142.84" r="1.55"/><circle cx="59.78" cy="142.84" r="1.55"/><circle cx="63.82" cy="142.84" r="1.55"/><circle cx="67.86" cy="142.84" r="1.55"/><circle cx="71.90" cy="142.84" r="1.55"/><circle cx="75.94" cy="142.84" r="1.55"/><circle cx="79.98" cy="142.84" r="1.55"/><circle cx="84.02" cy="142.84" r="1.55"/><circle cx="88.06" cy="142.84" r="1.55"/><circle cx="92.10" cy="142.84" r="1.55"/><circle cx="96.14" cy="142.84" r="1.55"/><circle cx="100.18" cy="142.84" r="1.55"/><circle cx="104.22" cy="142.84" r="1.55"/><circle cx="108.26" cy="142.84" r="1.55"/><circle cx="51.70" cy="147.88" r="1.55"/><circle cx="55.74" cy="147.88" r="1.55"/><circle cx="59.78" cy="147.88" r="1.55"/><circle cx="63.82" cy="147.88" r="1.55"/><circle cx="67.86" cy="147.88" r="1.55"/><circle cx="71.90" cy="147.88" r="1.55"/><circle cx="75.94" cy="147.88" r="1.55"/><circle cx="79.98" cy="147.88" r="1.55"/><circle cx="84.02" cy="147.88" r="1.55"/><circle cx="88.06" cy="147.88" r="1.55"/><circle cx="92.10" cy="147.88" r="1.55"/><circle cx="96.14" cy="147.88" r="1.55"/><circle cx="100.18" cy="147.88" r="1.55"/><circle cx="104.22" cy="147.88" r="1.55"/><circle cx="108.26" cy="147.88" r="1.55"/><circle cx="51.70" cy="152.92" r="1.55"/><circle cx="55.74" cy="152.92" r="1.55"/><circle cx="59.78" cy="152.92" r="1.55"/><circle cx="63.82" cy="152.92" r="1.55"/><circle cx="67.86" cy="152.92" r="1.55"/><circle cx="71.90" cy="152.92" r="1.55"/><circle cx="75.94" cy="152.92" r="1.55"/><circle cx="79.98" cy="152.92" r="1.55"/><circle cx="84.02" cy="152.92" r="1.55"/><circle cx="88.06" cy="152.92" r="1.55"/><circle cx="92.10" cy="152.92" r="1.55"/><circle cx="96.14" cy="152.92" r="1.55"/><circle cx="100.18" cy="152.92" r="1.55"/><circle cx="104.22" cy="152.92" r="1.55"/><circle cx="108.26" cy="152.92" r="1.55"/><circle cx="51.70" cy="157.96" r="1.55"/><circle cx="55.74" cy="157.96" r="1.55"/><circle cx="59.78" cy="157.96" r="1.55"/><circle cx="63.82" cy="157.96" r="1.55"/><circle cx="67.86" cy="157.96" r="1.55"/><circle cx="71.90" cy="157.96" r="1.55"/><circle cx="75.94" cy="157.96" r="1.55"/><circle cx="79.98" cy="157.96" r="1.55"/><circle cx="84.02" cy="157.96" r="1.55"/><circle cx="88.06" cy="157.96" r="1.55"/><circle cx="92.10" cy="157.96" r="1.55"/><circle cx="96.14" cy="157.96" r="1.55"/><circle cx="100.18" cy="157.96" r="1.55"/><circle cx="104.22" cy="157.96" r="1.55"/><circle cx="108.26" cy="157.96" r="1.55"/><circle cx="51.70" cy="163.00" r="1.55"/><circle cx="55.74" cy="163.00" r="1.55"/><circle cx="59.78" cy="163.00" r="1.55"/><circle cx="63.82" cy="163.00" r="1.55"/><circle cx="67.86" cy="163.00" r="1.55"/><circle cx="71.90" cy="163.00" r="1.55"/><circle cx="75.94" cy="163.00" r="1.55"/><circle cx="79.98" cy="163.00" r="1.55"/><circle cx="84.02" cy="163.00" r="1.55"/><circle cx="88.06" cy="163.00" r="1.55"/><circle cx="92.10" cy="163.00" r="1.55"/><circle cx="96.14" cy="163.00" r="1.55"/><circle cx="100.18" cy="163.00" r="1.55"/><circle cx="104.22" cy="163.00" r="1.55"/><circle cx="108.26" cy="163.00" r="1.55"/><circle cx="51.70" cy="168.04" r="1.55"/><circle cx="55.74" cy="168.04" r="1.55"/><circle cx="59.78" cy="168.04" r="1.55"/><circle cx="63.82" cy="168.04" r="1.55"/><circle cx="67.86" cy="168.04" r="1.55"/><circle cx="71.90" cy="168.04" r="1.55"/><circle cx="75.94" cy="168.04" r="1.55"/><circle cx="79.98" cy="168.04" r="1.55"/><circle cx="84.02" cy="168.04" r="1.55"/><circle cx="88.06" cy="168.04" r="1.55"/><circle cx="92.10" cy="168.04" r="1.55"/><circle cx="96.14" cy="168.04" r="1.55"/><circle cx="100.18" cy="168.04" r="1.55"/><circle cx="104.22" cy="168.04" r="1.55"/><circle cx="108.26" cy="168.04" r="1.55"/><circle cx="51.70" cy="173.08" r="1.55"/><circle cx="55.74" cy="173.08" r="1.55"/><circle cx="59.78" cy="173.08" r="1.55"/><circle cx="63.82" cy="173.08" r="1.55"/><circle cx="67.86" cy="173.08" r="1.55"/><circle cx="71.90" cy="173.08" r="1.55"/><circle cx="75.94" cy="173.08" r="1.55"/><circle cx="79.98" cy="173.08" r="1.55"/><circle cx="84.02" cy="173.08" r="1.55"/><circle cx="88.06" cy="173.08" r="1.55"/><circle cx="92.10" cy="173.08" r="1.55"/><circle cx="96.14" cy="173.08" r="1.55"/><circle cx="100.18" cy="173.08" r="1.55"/><circle cx="104.22" cy="173.08" r="1.55"/><circle cx="108.26" cy="173.08" r="1.55"/><circle cx="51.70" cy="178.12" r="1.55"/><circle cx="55.74" cy="178.12" r="1.55"/><circle cx="59.78" cy="178.12" r="1.55"/><circle cx="63.82" cy="178.12" r="1.55"/><circle cx="67.86" cy="178.12" r="1.55"/><circle cx="71.90" cy="178.12" r="1.55"/><circle cx="75.94" cy="178.12" r="1.55"/><circle cx="79.98" cy="178.12" r="1.55"/><circle cx="84.02" cy="178.12" r="1.55"/><circle cx="88.06" cy="178.12" r="1.55"/><circle cx="92.10" cy="178.12" r="1.55"/><circle cx="96.14" cy="178.12" r="1.55"/><circle cx="100.18" cy="178.12" r="1.55"/><circle cx="104.22" cy="178.12" r="1.55"/><circle cx="108.26" cy="178.12" r="1.55"/><circle cx="51.70" cy="183.16" r="1.55"/><circle cx="55.74" cy="183.16" r="1.55"/><circle cx="59.78" cy="183.16" r="1.55"/><circle cx="63.82" cy="183.16" r="1.55"/><circle cx="67.86" cy="183.16" r="1.55"/><circle cx="71.90" cy="183.16" r="1.55"/><circle cx="75.94" cy="183.16" r="1.55"/><circle cx="79.98" cy="183.16" r="1.55"/><circle cx="84.02" cy="183.16" r="1.55"/><circle cx="88.06" cy="183.16" r="1.55"/><circle cx="92.10" cy="183.16" r="1.55"/><circle cx="96.14" cy="183.16" r="1.55"/><circle cx="100.18" cy="183.16" r="1.55"/><circle cx="104.22" cy="183.16" r="1.55"/><circle cx="108.26" cy="183.16" r="1.55"/><circle cx="51.70" cy="188.20" r="1.55"/><circle cx="55.74" cy="188.20" r="1.55"/><circle cx="59.78" cy="188.20" r="1.55"/><circle cx="63.82" cy="188.20" r="1.55"/><circle cx="67.86" cy="188.20" r="1.55"/><circle cx="71.90" cy="188.20" r="1.55"/><circle cx="75.94" cy="188.20" r="1.55"/><circle cx="79.98" cy="188.20" r="1.55"/><circle cx="84.02" cy="188.20" r="1.55"/><circle cx="88.06" cy="188.20" r="1.55"/><circle cx="92.10" cy="188.20" r="1.55"/><circle cx="96.14" cy="188.20" r="1.55"/><circle cx="100.18" cy="188.20" r="1.55"/><circle cx="104.22" cy="188.20" r="1.55"/><circle cx="108.26" cy="188.20" r="1.55"/><circle cx="51.70" cy="193.24" r="1.55"/><circle cx="55.74" cy="193.24" r="1.55"/><circle cx="59.78" cy="193.24" r="1.55"/><circle cx="63.82" cy="193.24" r="1.55"/><circle cx="67.86" cy="193.24" r="1.55"/><circle cx="71.90" cy="193.24" r="1.55"/><circle cx="75.94" cy="193.24" r="1.55"/><circle cx="79.98" cy="193.24" r="1.55"/><circle cx="84.02" cy="193.24" r="1.55"/><circle cx="88.06" cy="193.24" r="1.55"/><circle cx="92.10" cy="193.24" r="1.55"/><circle cx="96.14" cy="193.24" r="1.55"/><circle cx="100.18" cy="193.24" r="1.55"/><circle cx="104.22" cy="193.24" r="1.55"/><circle cx="108.26" cy="193.24" r="1.55"/></g><g fill="none" stroke="#151515" stroke-width="0.7"><circle cx="51.70" cy="219.40" r="1.55"/><circle cx="55.74" cy="219.40" r="1.55"/><circle cx="59.78" cy="219.40" r="1.55"/><circle cx="63.82" cy="219.40" r="1.55"/><circle cx="67.86" cy="219.40" r="1.55"/><circle cx="71.90" cy="219.40" r="1.55"/><circle cx="75.94" cy="219.40" r="1.55"/><circle cx="79.98" cy="219.40" r="1.55"/><circle cx="84.02" cy="219.40" r="1.55"/><circle cx="88.06" cy="219.40" r="1.55"/><circle cx="92.10" cy="219.40" r="1.55"/><circle cx="96.14" cy="219.40" r="1.55"/><circle cx="100.18" cy="219.40" r="1.55"/><circle cx="104.22" cy="219.40" r="1.55"/><circle cx="108.26" cy="219.40" r="1.55"/><circle cx="51.70" cy="224.44" r="1.55"/><circle cx="55.74" cy="224.44" r="1.55"/><circle cx="59.78" cy="224.44" r="1.55"/><circle cx="63.82" cy="224.44" r="1.55"/><circle cx="67.86" cy="224.44" r="1.55"/><circle cx="71.90" cy="224.44" r="1.55"/><circle cx="75.94" cy="224.44" r="1.55"/><circle cx="79.98" cy="224.44" r="1.55"/><circle cx="84.02" cy="224.44" r="1.55"/><circle cx="88.06" cy="224.44" r="1.55"/><circle cx="92.10" cy="224.44" r="1.55"/><circle cx="96.14" cy="224.44" r="1.55"/><circle cx="100.18" cy="224.44" r="1.55"/><circle cx="104.22" cy="224.44" r="1.55"/><circle cx="108.26" cy="224.44" r="1.55"/><circle cx="51.70" cy="229.48" r="1.55"/><circle cx="55.74" cy="229.48" r="1.55"/><circle cx="59.78" cy="229.48" r="1.55"/><circle cx="63.82" cy="229.48" r="1.55"/><circle cx="67.86" cy="229.48" r="1.55"/><circle cx="71.90" cy="229.48" r="1.55"/><circle cx="75.94" cy="229.48" r="1.55"/><circle cx="79.98" cy="229.48" r="1.55"/><circle cx="84.02" cy="229.48" r="1.55"/><circle cx="88.06" cy="229.48" r="1.55"/><circle cx="92.10" cy="229.48" r="1.55"/><circle cx="96.14" cy="229.48" r="1.55"/><circle cx="100.18" cy="229.48" r="1.55"/><circle cx="104.22" cy="229.48" r="1.55"/><circle cx="108.26" cy="229.48" r="1.55"/><circle cx="51.70" cy="234.52" r="1.55"/><circle cx="55.74" cy="234.52" r="1.55"/><circle cx="59.78" cy="234.52" r="1.55"/><circle cx="63.82" cy="234.52" r="1.55"/><circle cx="67.86" cy="234.52" r="1.55"/><circle cx="71.90" cy="234.52" r="1.55"/><circle cx="75.94" cy="234.52" r="1.55"/><circle cx="79.98" cy="234.52" r="1.55"/><circle cx="84.02" cy="234.52" r="1.55"/><circle cx="88.06" cy="234.52" r="1.55"/><circle cx="92.10" cy="234.52" r="1.55"/><circle cx="96.14" cy="234.52" r="1.55"/><circle cx="100.18" cy="234.52" r="1.55"/><circle cx="104.22" cy="234.52" r="1.55"/><circle cx="108.26" cy="234.52" r="1.55"/><circle cx="51.70" cy="239.56" r="1.55"/><circle cx="55.74" cy="239.56" r="1.55"/><circle cx="59.78" cy="239.56" r="1.55"/><circle cx="63.82" cy="239.56" r="1.55"/><circle cx="67.86" cy="239.56" r="1.55"/><circle cx="71.90" cy="239.56" r="1.55"/><circle cx="75.94" cy="239.56" r="1.55"/><circle cx="79.98" cy="239.56" r="1.55"/><circle cx="84.02" cy="239.56" r="1.55"/><circle cx="88.06" cy="239.56" r="1.55"/><circle cx="92.10" cy="239.56" r="1.55"/><circle cx="96.14" cy="239.56" r="1.55"/><circle cx="100.18" cy="239.56" r="1.55"/><circle cx="104.22" cy="239.56" r="1.55"/><circle cx="108.26" cy="239.56" r="1.55"/><circle cx="51.70" cy="244.60" r="1.55"/><circle cx="55.74" cy="244.60" r="1.55"/><circle cx="59.78" cy="244.60" r="1.55"/><circle cx="63.82" cy="244.60" r="1.55"/><circle cx="67.86" cy="244.60" r="1.55"/><circle cx="71.90" cy="244.60" r="1.55"/><circle cx="75.94" cy="244.60" r="1.55"/><circle cx="79.98" cy="244.60" r="1.55"/><circle cx="84.02" cy="244.60" r="1.55"/><circle cx="88.06" cy="244.60" r="1.55"/><circle cx="92.10" cy="244.60" r="1.55"/><circle cx="96.14" cy="244.60" r="1.55"/><circle cx="100.18" cy="244.60" r="1.55"/><circle cx="104.22" cy="244.60" r="1.55"/><circle cx="108.26" cy="244.60" r="1.55"/><circle cx="51.70" cy="249.64" r="1.55"/><circle cx="55.74" cy="249.64" r="1.55"/><circle cx="59.78" cy="249.64" r="1.55"/><circle cx="63.82" cy="249.64" r="1.55"/><circle cx="67.86" cy="249.64" r="1.55"/><circle cx="71.90" cy="249.64" r="1.55"/><circle cx="75.94" cy="249.64" r="1.55"/><circle cx="79.98" cy="249.64" r="1.55"/><circle cx="84.02" cy="249.64" r="1.55"/><circle cx="88.06" cy="249.64" r="1.55"/><circle cx="92.10" cy="249.64" r="1.55"/><circle cx="96.14" cy="249.64" r="1.55"/><circle cx="100.18" cy="249.64" r="1.55"/><circle cx="104.22" cy="249.64" r="1.55"/><circle cx="108.26" cy="249.64" r="1.55"/><circle cx="51.70" cy="254.68" r="1.55"/><circle cx="55.74" cy="254.68" r="1.55"/><circle cx="59.78" cy="254.68" r="1.55"/><circle cx="63.82" cy="254.68" r="1.55"/><circle cx="67.86" cy="254.68" r="1.55"/><circle cx="71.90" cy="254.68" r="1.55"/><circle cx="75.94" cy="254.68" r="1.55"/><circle cx="79.98" cy="254.68" r="1.55"/><circle cx="84.02" cy="254.68" r="1.55"/><circle cx="88.06" cy="254.68" r="1.55"/><circle cx="92.10" cy="254.68" r="1.55"/><circle cx="96.14" cy="254.68" r="1.55"/><circle cx="100.18" cy="254.68" r="1.55"/><circle cx="104.22" cy="254.68" r="1.55"/><circle cx="108.26" cy="254.68" r="1.55"/><circle cx="51.70" cy="259.72" r="1.55"/><circle cx="55.74" cy="259.72" r="1.55"/><circle cx="59.78" cy="259.72" r="1.55"/><circle cx="63.82" cy="259.72" r="1.55"/><circle cx="67.86" cy="259.72" r="1.55"/><circle cx="71.90" cy="259.72" r="1.55"/><circle cx="75.94" cy="259.72" r="1.55"/><circle cx="79.98" cy="259.72" r="1.55"/><circle cx="84.02" cy="259.72" r="1.55"/><circle cx="88.06" cy="259.72" r="1.55"/><circle cx="92.10" cy="259.72" r="1.55"/><circle cx="96.14" cy="259.72" r="1.55"/><circle cx="100.18" cy="259.72" r="1.55"/><circle cx="104.22" cy="259.72" r="1.55"/><circle cx="108.26" cy="259.72" r="1.55"/><circle cx="51.70" cy="264.76" r="1.55"/><circle cx="55.74" cy="264.76" r="1.55"/><circle cx="59.78" cy="264.76" r="1.55"/><circle cx="63.82" cy="264.76" r="1.55"/><circle cx="67.86" cy="264.76" r="1.55"/><circle cx="71.90" cy="264.76" r="1.55"/><circle cx="75.94" cy="264.76" r="1.55"/><circle cx="79.98" cy="264.76" r="1.55"/><circle cx="84.02" cy="264.76" r="1.55"/><circle cx="88.06" cy="264.76" r="1.55"/><circle cx="92.10" cy="264.76" r="1.55"/><circle cx="96.14" cy="264.76" r="1.55"/><circle cx="100.18" cy="264.76" r="1.55"/><circle cx="104.22" cy="264.76" r="1.55"/><circle cx="108.26" cy="264.76" r="1.55"/><circle cx="51.70" cy="269.80" r="1.55"/><circle cx="55.74" cy="269.80" r="1.55"/><circle cx="59.78" cy="269.80" r="1.55"/><circle cx="63.82" cy="269.80" r="1.55"/><circle cx="67.86" cy="269.80" r="1.55"/><circle cx="71.90" cy="269.80" r="1.55"/><circle cx="75.94" cy="269.80" r="1.55"/><circle cx="79.98" cy="269.80" r="1.55"/><circle cx="84.02" cy="269.80" r="1.55"/><circle cx="88.06" cy="269.80" r="1.55"/><circle cx="92.10" cy="269.80" r="1.55"/><circle cx="96.14" cy="269.80" r="1.55"/><circle cx="100.18" cy="269.80" r="1.55"/><circle cx="104.22" cy="269.80" r="1.55"/><circle cx="108.26" cy="269.80" r="1.55"/><circle cx="51.70" cy="274.84" r="1.55"/><circle cx="55.74" cy="274.84" r="1.55"/><circle cx="59.78" cy="274.84" r="1.55"/><circle cx="63.82" cy="274.84" r="1.55"/><circle cx="67.86" cy="274.84" r="1.55"/><circle cx="71.90" cy="274.84" r="1.55"/><circle cx="75.94" cy="274.84" r="1.55"/><circle cx="79.98" cy="274.84" r="1.55"/><circle cx="84.02" cy="274.84" r="1.55"/><circle cx="88.06" cy="274.84" r="1.55"/><circle cx="92.10" cy="274.84" r="1.55"/><circle cx="96.14" cy="274.84" r="1.55"/><circle cx="100.18" cy="274.84" r="1.55"/><circle cx="104.22" cy="274.84" r="1.55"/><circle cx="108.26" cy="274.84" r="1.55"/></g><g fill="#1a1a1a" font-size="8.3" stroke="#1a1a1a" stroke-width="0.14"><text x="194.5" y="11.2" font-weight="bold" letter-spacing="2.05" font-size="8.7">AUSFÜHRUNG:</text><text x="194.50" y="19.40">- Frontplatte Serie Robusta LED</text><text x="194.50" y="29.73">- Farbe: V2A, Edelstahl 1.4301 gebürstet</text><text x="194.50" y="40.06">- Lochgitter mit Universal-Lautsprecheradapter</text><text x="199.06" y="50.39">für 2VOICE-, BiBus- und Standard-Einbau-TL</text><text x="194.50" y="60.72">- vorbereitet für Einbaukamera WFGRO-MD3B7</text><text x="194.50" y="71.05">- Kontakte: Protect 150 VA</text><text x="194.50" y="81.38">- LED-Namensschilder, frontbündig, hinterleuchtet in Weiß</text><text x="194.50" y="91.71">- Vorbereitung für Lesegerät DK 500 M-P</text><text x="199.06" y="102.04">mit getönter Plexiglasscheibe</text><text x="194.50" y="112.37">- mit UP-Kasten, ca. 140 x 400 x 50mm (BxHxT)</text><text x="194.50" y="122.70">- mit Befestigungslöchern und M4x20mm</text><text x="199.06" y="133.03">Resistorx-Schrauben</text><text x="194.5" y="151.90" font-weight="bold" letter-spacing="2.05" font-size="8.7">HINWEIS:</text><text x="194.5" y="161.90">Für Oberflächen-Oxidation durch eventuelles</text><text x="194.5" y="171.90">nachträgliches Bohren von Befestigungs-</text><text x="194.5" y="181.90">löchern wird keine Garantie übernommen !!!</text></g><rect x="195.2" y="353.3" width="120" height="200" fill="none" stroke="#333" stroke-width="1"/></g>
<g fill="#000" stroke="#000" stroke-width="0.35" font-size="33.5" font-weight="bold">
<text x="356.4" y="114.6" letter-spacing="-1.05">Ihre Vorstellungen,</text>
<text x="356.4" y="148.3" letter-spacing="-1.2">unsere Spielwiese.</text>
</g>
</svg>
</body></html>
